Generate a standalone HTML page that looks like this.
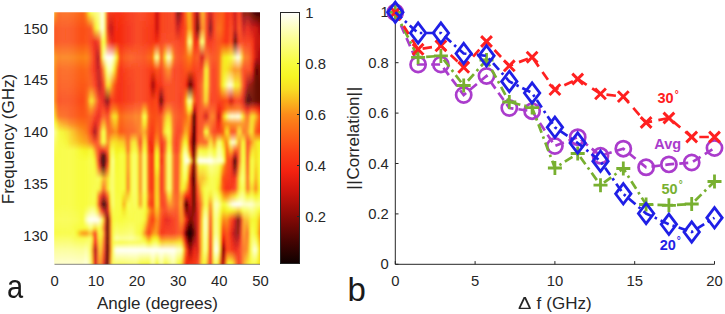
<!DOCTYPE html>
<html><head><meta charset="utf-8"><style>
html,body{margin:0;padding:0;background:#fff}
#w{position:relative;width:725px;height:314px;overflow:hidden;background:#fff;font-family:"Liberation Sans",sans-serif;color:#262626}
.t{position:absolute;font-size:14.8px;line-height:17px;white-space:nowrap}
.r{text-align:right}.c{text-align:center}
.l{position:absolute;font-size:17px;line-height:20px;white-space:nowrap;text-align:center}
.b{position:absolute;font-size:14.5px;line-height:17px;font-weight:bold;white-space:nowrap}
.b sup{font-size:10px;font-weight:bold;position:relative;top:-0.5px;left:1px;vertical-align:top;line-height:10px}
.p{position:absolute;font-size:33px;line-height:36px;color:#1a1a1a}
</style></head><body><div id="w">
<svg style="position:absolute;left:0;top:0" width="725" height="314" viewBox="0 0 725 314">
<defs><linearGradient id="g0" x1="0" y1="0" x2="0" y2="1"><stop offset="0.0249" stop-color="#fab21e"/><stop offset="0.0837" stop-color="#fb5015"/><stop offset="0.1347" stop-color="#fb5015"/><stop offset="0.1935" stop-color="#fba21c"/><stop offset="0.2405" stop-color="#fc961b"/><stop offset="0.2993" stop-color="#fb991b"/><stop offset="0.3581" stop-color="#fb9c1c"/><stop offset="0.3895" stop-color="#f9c921"/><stop offset="0.4170" stop-color="#f7e824"/><stop offset="0.4444" stop-color="#f8fc46"/><stop offset="0.4758" stop-color="#fcfea5"/><stop offset="0.5150" stop-color="#fafd70"/><stop offset="0.5463" stop-color="#f9fc51"/><stop offset="0.5659" stop-color="#f8fc46"/><stop offset="0.5855" stop-color="#f8fc3c"/><stop offset="0.6051" stop-color="#f8fc3c"/><stop offset="0.6522" stop-color="#f8fc3c"/><stop offset="0.6914" stop-color="#f8fc3c"/><stop offset="0.7188" stop-color="#f8fc3c"/><stop offset="0.7502" stop-color="#f8fc3c"/><stop offset="0.7737" stop-color="#f8fc43"/><stop offset="0.8090" stop-color="#f9fc4e"/><stop offset="0.8404" stop-color="#f8fc43"/><stop offset="0.8600" stop-color="#f8fc3c"/><stop offset="0.8796" stop-color="#f9fd58"/><stop offset="0.8952" stop-color="#fafd6f"/><stop offset="0.9227" stop-color="#fcfe96"/><stop offset="0.9737" stop-color="#fefec8"/></linearGradient>
<linearGradient id="g1" x1="0" y1="0" x2="0" y2="1"><stop offset="0.0249" stop-color="#fab21e"/><stop offset="0.0837" stop-color="#fb5015"/><stop offset="0.1347" stop-color="#fb5015"/><stop offset="0.1935" stop-color="#fba21c"/><stop offset="0.2405" stop-color="#fc961b"/><stop offset="0.2993" stop-color="#fb991b"/><stop offset="0.3581" stop-color="#fb9c1c"/><stop offset="0.3895" stop-color="#f9c921"/><stop offset="0.4170" stop-color="#f7e824"/><stop offset="0.4444" stop-color="#f8fc46"/><stop offset="0.4758" stop-color="#fcfea5"/><stop offset="0.5150" stop-color="#fafd70"/><stop offset="0.5463" stop-color="#f9fc51"/><stop offset="0.5659" stop-color="#f8fc46"/><stop offset="0.5855" stop-color="#f8fc3c"/><stop offset="0.6051" stop-color="#f8fc3c"/><stop offset="0.6522" stop-color="#f8fc3c"/><stop offset="0.6914" stop-color="#f8fc3c"/><stop offset="0.7188" stop-color="#f8fc3c"/><stop offset="0.7502" stop-color="#f8fc3c"/><stop offset="0.7737" stop-color="#f8fc43"/><stop offset="0.8090" stop-color="#f9fc4e"/><stop offset="0.8404" stop-color="#f8fc43"/><stop offset="0.8600" stop-color="#f8fc3c"/><stop offset="0.8796" stop-color="#f9fd58"/><stop offset="0.8952" stop-color="#fafd6f"/><stop offset="0.9227" stop-color="#fcfe96"/><stop offset="0.9737" stop-color="#fefec8"/></linearGradient>
<linearGradient id="g2" x1="0" y1="0" x2="0" y2="1"><stop offset="0.0249" stop-color="#fb971b"/><stop offset="0.0837" stop-color="#fb5015"/><stop offset="0.1347" stop-color="#fb5015"/><stop offset="0.1935" stop-color="#fb971b"/><stop offset="0.2405" stop-color="#fc8419"/><stop offset="0.2993" stop-color="#fc8219"/><stop offset="0.3581" stop-color="#fc8019"/><stop offset="0.3895" stop-color="#fba51c"/><stop offset="0.4170" stop-color="#f9cb21"/><stop offset="0.4444" stop-color="#f7f92f"/><stop offset="0.4758" stop-color="#fbfe88"/><stop offset="0.5150" stop-color="#fafd62"/><stop offset="0.5463" stop-color="#f9fc4b"/><stop offset="0.5659" stop-color="#f8fc43"/><stop offset="0.5855" stop-color="#f8fc3c"/><stop offset="0.6051" stop-color="#f8fc3c"/><stop offset="0.6522" stop-color="#f8fc3c"/><stop offset="0.6914" stop-color="#f8fc3c"/><stop offset="0.7188" stop-color="#f8fc3c"/><stop offset="0.7502" stop-color="#f8fc3c"/><stop offset="0.7737" stop-color="#f8fc43"/><stop offset="0.8090" stop-color="#f9fc4e"/><stop offset="0.8404" stop-color="#f8fc43"/><stop offset="0.8600" stop-color="#f8fc3c"/><stop offset="0.8796" stop-color="#f9fd58"/><stop offset="0.8952" stop-color="#fafd6f"/><stop offset="0.9227" stop-color="#fcfe96"/><stop offset="0.9737" stop-color="#fefec8"/></linearGradient>
<linearGradient id="g3" x1="0" y1="0" x2="0" y2="1"><stop offset="0.0249" stop-color="#fc7018"/><stop offset="0.0837" stop-color="#fb5015"/><stop offset="0.1347" stop-color="#fb5015"/><stop offset="0.1935" stop-color="#fc8519"/><stop offset="0.2405" stop-color="#fc6917"/><stop offset="0.2993" stop-color="#fc6117"/><stop offset="0.3581" stop-color="#fc5616"/><stop offset="0.3895" stop-color="#fc6e17"/><stop offset="0.4170" stop-color="#fc8519"/><stop offset="0.4444" stop-color="#f8dc24"/><stop offset="0.4758" stop-color="#f9fc51"/><stop offset="0.5150" stop-color="#f8fc46"/><stop offset="0.5463" stop-color="#f8fc3f"/><stop offset="0.5659" stop-color="#f8fc3e"/><stop offset="0.5855" stop-color="#f8fc3c"/><stop offset="0.6051" stop-color="#f8fc3c"/><stop offset="0.6522" stop-color="#f8fc3c"/><stop offset="0.6914" stop-color="#f8fc3c"/><stop offset="0.7188" stop-color="#f8fc3c"/><stop offset="0.7502" stop-color="#f8fc3c"/><stop offset="0.7737" stop-color="#f8fc43"/><stop offset="0.8090" stop-color="#f9fc4e"/><stop offset="0.8404" stop-color="#f8fc43"/><stop offset="0.8600" stop-color="#f8fc3c"/><stop offset="0.8796" stop-color="#f9fd58"/><stop offset="0.8952" stop-color="#fafd6f"/><stop offset="0.9227" stop-color="#fcfe96"/><stop offset="0.9737" stop-color="#fefec8"/></linearGradient>
<linearGradient id="g4" x1="0" y1="0" x2="0" y2="1"><stop offset="0.0249" stop-color="#fc6217"/><stop offset="0.0837" stop-color="#fb5015"/><stop offset="0.1347" stop-color="#fb5015"/><stop offset="0.1935" stop-color="#fc7f19"/><stop offset="0.2405" stop-color="#fc5e16"/><stop offset="0.2993" stop-color="#fc5416"/><stop offset="0.3581" stop-color="#fb4615"/><stop offset="0.3895" stop-color="#fc5916"/><stop offset="0.4170" stop-color="#fc6c17"/><stop offset="0.4444" stop-color="#fab81e"/><stop offset="0.4758" stop-color="#f7fa33"/><stop offset="0.5150" stop-color="#f8fb38"/><stop offset="0.5463" stop-color="#f8fc3b"/><stop offset="0.5659" stop-color="#f8fc3b"/><stop offset="0.5855" stop-color="#f8fc3c"/><stop offset="0.6051" stop-color="#f8fc3c"/><stop offset="0.6522" stop-color="#f8fc3c"/><stop offset="0.6914" stop-color="#f8fc3c"/><stop offset="0.7188" stop-color="#f8fc3c"/><stop offset="0.7502" stop-color="#f8fc3c"/><stop offset="0.7737" stop-color="#f8fc43"/><stop offset="0.8090" stop-color="#f9fc4e"/><stop offset="0.8404" stop-color="#f8fc43"/><stop offset="0.8600" stop-color="#f8fc3c"/><stop offset="0.8796" stop-color="#f9fd58"/><stop offset="0.8952" stop-color="#fafd6f"/><stop offset="0.9227" stop-color="#fcfe96"/><stop offset="0.9737" stop-color="#fefec8"/></linearGradient>
<linearGradient id="g5" x1="0" y1="0" x2="0" y2="1"><stop offset="0.0249" stop-color="#fc6617"/><stop offset="0.0837" stop-color="#fb5015"/><stop offset="0.1347" stop-color="#fb5015"/><stop offset="0.1935" stop-color="#fc8019"/><stop offset="0.2405" stop-color="#fc6117"/><stop offset="0.2993" stop-color="#fc5816"/><stop offset="0.3581" stop-color="#fb4a15"/><stop offset="0.3895" stop-color="#fc5916"/><stop offset="0.4170" stop-color="#fc6817"/><stop offset="0.4444" stop-color="#fbab1d"/><stop offset="0.4758" stop-color="#f6f728"/><stop offset="0.5150" stop-color="#f7fa35"/><stop offset="0.5463" stop-color="#f8fc3c"/><stop offset="0.5659" stop-color="#f8fc3c"/><stop offset="0.5855" stop-color="#f8fc3c"/><stop offset="0.6051" stop-color="#f8fc3c"/><stop offset="0.6522" stop-color="#f8fc3c"/><stop offset="0.6914" stop-color="#f8fc3c"/><stop offset="0.7188" stop-color="#f8fc3c"/><stop offset="0.7502" stop-color="#f8fc3c"/><stop offset="0.7737" stop-color="#f8fc43"/><stop offset="0.8090" stop-color="#f9fc4e"/><stop offset="0.8404" stop-color="#f8fc43"/><stop offset="0.8600" stop-color="#f8fc3c"/><stop offset="0.8796" stop-color="#f9fd58"/><stop offset="0.8952" stop-color="#fafd6f"/><stop offset="0.9227" stop-color="#fcfe96"/><stop offset="0.9737" stop-color="#fefec8"/></linearGradient>
<linearGradient id="g6" x1="0" y1="0" x2="0" y2="1"><stop offset="0.0249" stop-color="#fc6717"/><stop offset="0.0837" stop-color="#fb5015"/><stop offset="0.1347" stop-color="#fb5015"/><stop offset="0.1935" stop-color="#fc8119"/><stop offset="0.2405" stop-color="#fc6317"/><stop offset="0.2993" stop-color="#fc5916"/><stop offset="0.3581" stop-color="#fb4c15"/><stop offset="0.3895" stop-color="#fc5916"/><stop offset="0.4170" stop-color="#fc6517"/><stop offset="0.4444" stop-color="#fba21c"/><stop offset="0.4758" stop-color="#f6f224"/><stop offset="0.5150" stop-color="#f7f930"/><stop offset="0.5463" stop-color="#f8fc3c"/><stop offset="0.5659" stop-color="#f8fc3c"/><stop offset="0.5855" stop-color="#f8fc3c"/><stop offset="0.6051" stop-color="#f8fc3c"/><stop offset="0.6522" stop-color="#f8fc3c"/><stop offset="0.6914" stop-color="#f8fc3c"/><stop offset="0.7188" stop-color="#f8fc3c"/><stop offset="0.7502" stop-color="#f8fc3c"/><stop offset="0.7737" stop-color="#f8fc43"/><stop offset="0.8090" stop-color="#f9fc4e"/><stop offset="0.8404" stop-color="#f8fc43"/><stop offset="0.8600" stop-color="#f8fc3c"/><stop offset="0.8796" stop-color="#f9fd58"/><stop offset="0.8952" stop-color="#fafd6f"/><stop offset="0.9227" stop-color="#fcfe96"/><stop offset="0.9737" stop-color="#fefec8"/></linearGradient>
<linearGradient id="g7" x1="0" y1="0" x2="0" y2="1"><stop offset="0.0249" stop-color="#fc6717"/><stop offset="0.0837" stop-color="#fb5015"/><stop offset="0.1347" stop-color="#fb5015"/><stop offset="0.1935" stop-color="#fc8119"/><stop offset="0.2405" stop-color="#fc6317"/><stop offset="0.2993" stop-color="#fc5916"/><stop offset="0.3581" stop-color="#fb4c15"/><stop offset="0.3895" stop-color="#fc5816"/><stop offset="0.4170" stop-color="#fc6417"/><stop offset="0.4444" stop-color="#fb9c1b"/><stop offset="0.4758" stop-color="#f7eb24"/><stop offset="0.5150" stop-color="#f6f729"/><stop offset="0.5463" stop-color="#f8fc3c"/><stop offset="0.5659" stop-color="#f8fc3c"/><stop offset="0.5855" stop-color="#f8fc3c"/><stop offset="0.6051" stop-color="#f8fc3c"/><stop offset="0.6522" stop-color="#f8fc3c"/><stop offset="0.6914" stop-color="#f8fc3c"/><stop offset="0.7188" stop-color="#f8fc3c"/><stop offset="0.7502" stop-color="#f8fc3c"/><stop offset="0.7737" stop-color="#f8fc43"/><stop offset="0.8090" stop-color="#f9fc4e"/><stop offset="0.8404" stop-color="#f8fc43"/><stop offset="0.8600" stop-color="#f8fc3c"/><stop offset="0.8796" stop-color="#f9fd58"/><stop offset="0.8952" stop-color="#fafd6f"/><stop offset="0.9227" stop-color="#fcfe96"/><stop offset="0.9737" stop-color="#fefec8"/></linearGradient>
<linearGradient id="g8" x1="0" y1="0" x2="0" y2="1"><stop offset="0.0249" stop-color="#fc6717"/><stop offset="0.0837" stop-color="#fb5015"/><stop offset="0.1347" stop-color="#fb5015"/><stop offset="0.1935" stop-color="#fc8119"/><stop offset="0.2405" stop-color="#fc6317"/><stop offset="0.2993" stop-color="#fc5916"/><stop offset="0.3581" stop-color="#fb4c15"/><stop offset="0.3895" stop-color="#fc5716"/><stop offset="0.4170" stop-color="#fc6017"/><stop offset="0.4444" stop-color="#fc921b"/><stop offset="0.4758" stop-color="#f8e324"/><stop offset="0.5150" stop-color="#f6f124"/><stop offset="0.5463" stop-color="#f8fc3c"/><stop offset="0.5659" stop-color="#f8fc3c"/><stop offset="0.5855" stop-color="#f8fc3c"/><stop offset="0.6051" stop-color="#f8fc3c"/><stop offset="0.6522" stop-color="#f8fc3c"/><stop offset="0.6914" stop-color="#f8fc3c"/><stop offset="0.7188" stop-color="#f8fc3c"/><stop offset="0.7502" stop-color="#f8fc3c"/><stop offset="0.7737" stop-color="#f8fc43"/><stop offset="0.8090" stop-color="#f9fc4e"/><stop offset="0.8404" stop-color="#f8fc43"/><stop offset="0.8600" stop-color="#f8fc3c"/><stop offset="0.8796" stop-color="#f9fd59"/><stop offset="0.8952" stop-color="#fafd6f"/><stop offset="0.9227" stop-color="#fcfe96"/><stop offset="0.9737" stop-color="#fefec8"/></linearGradient>
<linearGradient id="g9" x1="0" y1="0" x2="0" y2="1"><stop offset="0.0249" stop-color="#fc6717"/><stop offset="0.0837" stop-color="#fb5015"/><stop offset="0.1347" stop-color="#fb5015"/><stop offset="0.1935" stop-color="#fc8119"/><stop offset="0.2405" stop-color="#fc6317"/><stop offset="0.2993" stop-color="#fc5916"/><stop offset="0.3581" stop-color="#fb4c15"/><stop offset="0.3895" stop-color="#fc5416"/><stop offset="0.4170" stop-color="#fc5b16"/><stop offset="0.4444" stop-color="#fc8619"/><stop offset="0.4758" stop-color="#f8d523"/><stop offset="0.5150" stop-color="#f8e324"/><stop offset="0.5463" stop-color="#f8fc3c"/><stop offset="0.5659" stop-color="#f8fc3c"/><stop offset="0.5855" stop-color="#f8fc3c"/><stop offset="0.6051" stop-color="#f8fc3c"/><stop offset="0.6522" stop-color="#f8fc3c"/><stop offset="0.6914" stop-color="#f8fc3c"/><stop offset="0.7188" stop-color="#f8fc3c"/><stop offset="0.7502" stop-color="#f8fc3c"/><stop offset="0.7737" stop-color="#f8fc43"/><stop offset="0.8090" stop-color="#f9fc4e"/><stop offset="0.8404" stop-color="#f8fc44"/><stop offset="0.8600" stop-color="#f8fc3c"/><stop offset="0.8796" stop-color="#f9fd59"/><stop offset="0.8952" stop-color="#fafd6f"/><stop offset="0.9227" stop-color="#fcfe96"/><stop offset="0.9737" stop-color="#fefec8"/></linearGradient>
<linearGradient id="g10" x1="0" y1="0" x2="0" y2="1"><stop offset="0.0249" stop-color="#fc6717"/><stop offset="0.0837" stop-color="#fb5015"/><stop offset="0.1347" stop-color="#fb5015"/><stop offset="0.1935" stop-color="#fc8119"/><stop offset="0.2405" stop-color="#fc6317"/><stop offset="0.2993" stop-color="#fc5916"/><stop offset="0.3581" stop-color="#fb4c15"/><stop offset="0.3895" stop-color="#fc5216"/><stop offset="0.4170" stop-color="#fc5816"/><stop offset="0.4444" stop-color="#fc8019"/><stop offset="0.4758" stop-color="#f9c721"/><stop offset="0.5150" stop-color="#f8d723"/><stop offset="0.5463" stop-color="#f8fc3d"/><stop offset="0.5659" stop-color="#f8fc3c"/><stop offset="0.5855" stop-color="#f8fc3c"/><stop offset="0.6051" stop-color="#f8fc3c"/><stop offset="0.6522" stop-color="#f8fc3c"/><stop offset="0.6914" stop-color="#f8fc3c"/><stop offset="0.7188" stop-color="#f8fc3c"/><stop offset="0.7502" stop-color="#f8fc3c"/><stop offset="0.7737" stop-color="#f8fc43"/><stop offset="0.8090" stop-color="#f9fc4e"/><stop offset="0.8404" stop-color="#f8fc42"/><stop offset="0.8600" stop-color="#f8fc40"/><stop offset="0.8796" stop-color="#f9fd56"/><stop offset="0.8952" stop-color="#fafd6d"/><stop offset="0.9227" stop-color="#fcfe96"/><stop offset="0.9737" stop-color="#fefec8"/></linearGradient>
<linearGradient id="g11" x1="0" y1="0" x2="0" y2="1"><stop offset="0.0249" stop-color="#fc6717"/><stop offset="0.0837" stop-color="#fb5015"/><stop offset="0.1347" stop-color="#fb5015"/><stop offset="0.1935" stop-color="#fc8119"/><stop offset="0.2405" stop-color="#fc6317"/><stop offset="0.2993" stop-color="#fc5916"/><stop offset="0.3581" stop-color="#fb4c15"/><stop offset="0.3895" stop-color="#fc5316"/><stop offset="0.4170" stop-color="#fc5916"/><stop offset="0.4444" stop-color="#fc7d19"/><stop offset="0.4758" stop-color="#fabc1f"/><stop offset="0.5150" stop-color="#f9d122"/><stop offset="0.5463" stop-color="#f8fc3e"/><stop offset="0.5659" stop-color="#f8fc3d"/><stop offset="0.5855" stop-color="#f8fc3c"/><stop offset="0.6051" stop-color="#f8fc3c"/><stop offset="0.6522" stop-color="#f8fc3c"/><stop offset="0.6914" stop-color="#f8fc3c"/><stop offset="0.7188" stop-color="#f8fc3c"/><stop offset="0.7502" stop-color="#f8fc3c"/><stop offset="0.7737" stop-color="#f8fc43"/><stop offset="0.8090" stop-color="#f9fc4e"/><stop offset="0.8404" stop-color="#f8fc3d"/><stop offset="0.8600" stop-color="#f9fc48"/><stop offset="0.8796" stop-color="#f9fc50"/><stop offset="0.8952" stop-color="#fafd69"/><stop offset="0.9227" stop-color="#fcfe96"/><stop offset="0.9737" stop-color="#fefec8"/></linearGradient>
<linearGradient id="g12" x1="0" y1="0" x2="0" y2="1"><stop offset="0.0249" stop-color="#fc6717"/><stop offset="0.0837" stop-color="#fb5015"/><stop offset="0.1347" stop-color="#fb5015"/><stop offset="0.1935" stop-color="#fc8119"/><stop offset="0.2405" stop-color="#fc6317"/><stop offset="0.2993" stop-color="#fc5916"/><stop offset="0.3581" stop-color="#fb4c15"/><stop offset="0.3895" stop-color="#fc5316"/><stop offset="0.4170" stop-color="#fc5916"/><stop offset="0.4444" stop-color="#fc7a18"/><stop offset="0.4758" stop-color="#faaf1d"/><stop offset="0.5150" stop-color="#f9ca21"/><stop offset="0.5463" stop-color="#f8fc3b"/><stop offset="0.5659" stop-color="#f8fc3b"/><stop offset="0.5855" stop-color="#f8fc3c"/><stop offset="0.6051" stop-color="#f8fc3c"/><stop offset="0.6522" stop-color="#f8fc3c"/><stop offset="0.6914" stop-color="#f8fc3c"/><stop offset="0.7188" stop-color="#f8fc3c"/><stop offset="0.7502" stop-color="#f8fc3c"/><stop offset="0.7737" stop-color="#f8fc43"/><stop offset="0.8090" stop-color="#f9fc4e"/><stop offset="0.8404" stop-color="#f8fc3c"/><stop offset="0.8600" stop-color="#f7fa33"/><stop offset="0.8796" stop-color="#f9fc4d"/><stop offset="0.8952" stop-color="#fafd67"/><stop offset="0.9227" stop-color="#fcfe96"/><stop offset="0.9737" stop-color="#fefec8"/></linearGradient>
<linearGradient id="g13" x1="0" y1="0" x2="0" y2="1"><stop offset="0.0249" stop-color="#fc6717"/><stop offset="0.0837" stop-color="#fb5015"/><stop offset="0.1347" stop-color="#fb5015"/><stop offset="0.1935" stop-color="#fc8119"/><stop offset="0.2405" stop-color="#fc6317"/><stop offset="0.2993" stop-color="#fc5916"/><stop offset="0.3581" stop-color="#fb4c15"/><stop offset="0.3895" stop-color="#fc5316"/><stop offset="0.4170" stop-color="#fc5916"/><stop offset="0.4444" stop-color="#fc7618"/><stop offset="0.4758" stop-color="#fba21c"/><stop offset="0.5150" stop-color="#f9c220"/><stop offset="0.5463" stop-color="#f7fa35"/><stop offset="0.5659" stop-color="#f8fb39"/><stop offset="0.5855" stop-color="#f8fc3c"/><stop offset="0.6051" stop-color="#f8fc3c"/><stop offset="0.6522" stop-color="#f8fc3c"/><stop offset="0.6914" stop-color="#f8fc3c"/><stop offset="0.7188" stop-color="#f8fc3c"/><stop offset="0.7502" stop-color="#f8fc3c"/><stop offset="0.7737" stop-color="#f8fc43"/><stop offset="0.8090" stop-color="#f9fc4e"/><stop offset="0.8404" stop-color="#f8fc3c"/><stop offset="0.8600" stop-color="#f8e224"/><stop offset="0.8796" stop-color="#f9fc4e"/><stop offset="0.8952" stop-color="#fafd68"/><stop offset="0.9227" stop-color="#fcfe96"/><stop offset="0.9737" stop-color="#fefec8"/></linearGradient>
<linearGradient id="g14" x1="0" y1="0" x2="0" y2="1"><stop offset="0.0249" stop-color="#fc6617"/><stop offset="0.0837" stop-color="#fb5015"/><stop offset="0.1347" stop-color="#fb5015"/><stop offset="0.1935" stop-color="#fc8119"/><stop offset="0.2405" stop-color="#fc6317"/><stop offset="0.2993" stop-color="#fc5916"/><stop offset="0.3581" stop-color="#fb4b15"/><stop offset="0.3895" stop-color="#fc5216"/><stop offset="0.4170" stop-color="#fc5916"/><stop offset="0.4444" stop-color="#fc7318"/><stop offset="0.4758" stop-color="#fb991b"/><stop offset="0.5150" stop-color="#faba1f"/><stop offset="0.5463" stop-color="#f7f930"/><stop offset="0.5659" stop-color="#f8fb36"/><stop offset="0.5855" stop-color="#f8fc3c"/><stop offset="0.6051" stop-color="#f8fc3c"/><stop offset="0.6522" stop-color="#f8fc3c"/><stop offset="0.6914" stop-color="#f8fc3c"/><stop offset="0.7188" stop-color="#f8fc3c"/><stop offset="0.7502" stop-color="#f8fc3c"/><stop offset="0.7737" stop-color="#f8fc42"/><stop offset="0.8090" stop-color="#f9fc4a"/><stop offset="0.8404" stop-color="#f8fc3c"/><stop offset="0.8600" stop-color="#fabb1f"/><stop offset="0.8796" stop-color="#f9fc4e"/><stop offset="0.8952" stop-color="#fafd68"/><stop offset="0.9227" stop-color="#fcfe96"/><stop offset="0.9737" stop-color="#fefec8"/></linearGradient>
<linearGradient id="g15" x1="0" y1="0" x2="0" y2="1"><stop offset="0.0249" stop-color="#fc6217"/><stop offset="0.0837" stop-color="#fb5015"/><stop offset="0.1347" stop-color="#fb5015"/><stop offset="0.1935" stop-color="#fc8119"/><stop offset="0.2405" stop-color="#fc6317"/><stop offset="0.2993" stop-color="#fc5916"/><stop offset="0.3581" stop-color="#fb4915"/><stop offset="0.3895" stop-color="#fb5115"/><stop offset="0.4170" stop-color="#fc5916"/><stop offset="0.4444" stop-color="#fc7118"/><stop offset="0.4758" stop-color="#fc931b"/><stop offset="0.5150" stop-color="#fab21e"/><stop offset="0.5463" stop-color="#f7f82b"/><stop offset="0.5659" stop-color="#f7fa34"/><stop offset="0.5855" stop-color="#f8fc3c"/><stop offset="0.6051" stop-color="#f8fc3c"/><stop offset="0.6522" stop-color="#f8fc3c"/><stop offset="0.6914" stop-color="#f8fc3c"/><stop offset="0.7188" stop-color="#f8fc3c"/><stop offset="0.7502" stop-color="#f8fc3c"/><stop offset="0.7737" stop-color="#f8fc40"/><stop offset="0.8090" stop-color="#f8fc41"/><stop offset="0.8404" stop-color="#f8fc3c"/><stop offset="0.8600" stop-color="#fba21c"/><stop offset="0.8796" stop-color="#f9fc4e"/><stop offset="0.8952" stop-color="#fafd68"/><stop offset="0.9227" stop-color="#fcfe96"/><stop offset="0.9737" stop-color="#fefec8"/></linearGradient>
<linearGradient id="g16" x1="0" y1="0" x2="0" y2="1"><stop offset="0.0249" stop-color="#fc6d17"/><stop offset="0.0837" stop-color="#fb5015"/><stop offset="0.1347" stop-color="#fb5115"/><stop offset="0.1935" stop-color="#fc8319"/><stop offset="0.2405" stop-color="#fc6417"/><stop offset="0.2993" stop-color="#fc5916"/><stop offset="0.3581" stop-color="#fb5015"/><stop offset="0.3895" stop-color="#fc5516"/><stop offset="0.4170" stop-color="#fc5916"/><stop offset="0.4444" stop-color="#fc6e17"/><stop offset="0.4758" stop-color="#fc891a"/><stop offset="0.5150" stop-color="#fbab1d"/><stop offset="0.5463" stop-color="#f6f626"/><stop offset="0.5659" stop-color="#f7f931"/><stop offset="0.5855" stop-color="#f8fc3c"/><stop offset="0.6051" stop-color="#f8fc3c"/><stop offset="0.6522" stop-color="#f8fc3c"/><stop offset="0.6914" stop-color="#f8fc3c"/><stop offset="0.7188" stop-color="#f8fc3c"/><stop offset="0.7502" stop-color="#f8fc3c"/><stop offset="0.7737" stop-color="#f8fc47"/><stop offset="0.8090" stop-color="#fafd61"/><stop offset="0.8404" stop-color="#f8fc3b"/><stop offset="0.8600" stop-color="#fc961b"/><stop offset="0.8796" stop-color="#f9fc4f"/><stop offset="0.8952" stop-color="#fafd6a"/><stop offset="0.9227" stop-color="#fcfe9c"/><stop offset="0.9737" stop-color="#feffce"/></linearGradient>
<linearGradient id="g17" x1="0" y1="0" x2="0" y2="1"><stop offset="0.0249" stop-color="#fc881a"/><stop offset="0.0837" stop-color="#fb4f15"/><stop offset="0.1347" stop-color="#fc5316"/><stop offset="0.1935" stop-color="#fc8619"/><stop offset="0.2405" stop-color="#fc6617"/><stop offset="0.2993" stop-color="#fc5916"/><stop offset="0.3581" stop-color="#fc6217"/><stop offset="0.3895" stop-color="#fc5d16"/><stop offset="0.4170" stop-color="#fc5916"/><stop offset="0.4444" stop-color="#fc6a17"/><stop offset="0.4758" stop-color="#fc7e19"/><stop offset="0.5150" stop-color="#fba61c"/><stop offset="0.5463" stop-color="#f6f224"/><stop offset="0.5659" stop-color="#f7f82e"/><stop offset="0.5855" stop-color="#f8fc3c"/><stop offset="0.6051" stop-color="#f8fc3c"/><stop offset="0.6522" stop-color="#f8fc3c"/><stop offset="0.6914" stop-color="#f8fc3c"/><stop offset="0.7188" stop-color="#f8fc3c"/><stop offset="0.7502" stop-color="#f8fc3c"/><stop offset="0.7737" stop-color="#f9fd57"/><stop offset="0.8090" stop-color="#fdfeac"/><stop offset="0.8404" stop-color="#f8fb39"/><stop offset="0.8600" stop-color="#fb971b"/><stop offset="0.8796" stop-color="#f9fc50"/><stop offset="0.8952" stop-color="#fafd6f"/><stop offset="0.9227" stop-color="#fdfea7"/><stop offset="0.9737" stop-color="#feffd9"/></linearGradient>
<linearGradient id="g18" x1="0" y1="0" x2="0" y2="1"><stop offset="0.0249" stop-color="#f9c520"/><stop offset="0.0837" stop-color="#fb4f15"/><stop offset="0.1347" stop-color="#fb4d15"/><stop offset="0.1935" stop-color="#fc7c19"/><stop offset="0.2405" stop-color="#fc5f16"/><stop offset="0.2993" stop-color="#fc5b16"/><stop offset="0.3581" stop-color="#fc8619"/><stop offset="0.3895" stop-color="#fc6e17"/><stop offset="0.4170" stop-color="#fc5b16"/><stop offset="0.4444" stop-color="#fc5f16"/><stop offset="0.4758" stop-color="#fc6417"/><stop offset="0.5150" stop-color="#fc941b"/><stop offset="0.5463" stop-color="#f6f424"/><stop offset="0.5659" stop-color="#f7f930"/><stop offset="0.5855" stop-color="#f8fc3f"/><stop offset="0.6051" stop-color="#f8fc3e"/><stop offset="0.6522" stop-color="#f8fc3c"/><stop offset="0.6914" stop-color="#f8fc3c"/><stop offset="0.7188" stop-color="#f8fc3d"/><stop offset="0.7502" stop-color="#f8fc3e"/><stop offset="0.7737" stop-color="#fafd6b"/><stop offset="0.8090" stop-color="#feffdf"/><stop offset="0.8404" stop-color="#f9fc49"/><stop offset="0.8600" stop-color="#fba91d"/><stop offset="0.8796" stop-color="#f9fd57"/><stop offset="0.8952" stop-color="#fafd6c"/><stop offset="0.9227" stop-color="#fcfe8f"/><stop offset="0.9737" stop-color="#fdfec1"/></linearGradient>
<linearGradient id="g19" x1="0" y1="0" x2="0" y2="1"><stop offset="0.0249" stop-color="#f7f82d"/><stop offset="0.0837" stop-color="#fb4e15"/><stop offset="0.1347" stop-color="#fa4014"/><stop offset="0.1935" stop-color="#fc6817"/><stop offset="0.2405" stop-color="#fb4e15"/><stop offset="0.2993" stop-color="#fc5e16"/><stop offset="0.3581" stop-color="#f8d423"/><stop offset="0.3895" stop-color="#fc891a"/><stop offset="0.4170" stop-color="#fc5e16"/><stop offset="0.4444" stop-color="#fb5015"/><stop offset="0.4758" stop-color="#fa4114"/><stop offset="0.5150" stop-color="#fc7d19"/><stop offset="0.5463" stop-color="#f7f82b"/><stop offset="0.5659" stop-color="#f8fb36"/><stop offset="0.5855" stop-color="#f8fc46"/><stop offset="0.6051" stop-color="#f8fc43"/><stop offset="0.6522" stop-color="#f8fc3c"/><stop offset="0.6914" stop-color="#f8fc3c"/><stop offset="0.7188" stop-color="#f8fc3e"/><stop offset="0.7502" stop-color="#f8fc41"/><stop offset="0.7737" stop-color="#fbfe82"/><stop offset="0.8090" stop-color="#fffff6"/><stop offset="0.8404" stop-color="#fafd71"/><stop offset="0.8600" stop-color="#f9cb21"/><stop offset="0.8796" stop-color="#fafd64"/><stop offset="0.8952" stop-color="#fafd60"/><stop offset="0.9227" stop-color="#f9fd59"/><stop offset="0.9737" stop-color="#fbfe86"/></linearGradient>
<linearGradient id="g20" x1="0" y1="0" x2="0" y2="1"><stop offset="0.0249" stop-color="#f9fd53"/><stop offset="0.0837" stop-color="#fc6817"/><stop offset="0.1347" stop-color="#f73212"/><stop offset="0.1935" stop-color="#fb4b15"/><stop offset="0.2405" stop-color="#fa3c14"/><stop offset="0.2993" stop-color="#fc5316"/><stop offset="0.3581" stop-color="#f8e124"/><stop offset="0.3895" stop-color="#fc8619"/><stop offset="0.4170" stop-color="#fc5216"/><stop offset="0.4444" stop-color="#f93a13"/><stop offset="0.4758" stop-color="#ec1f0f"/><stop offset="0.5150" stop-color="#fc6317"/><stop offset="0.5463" stop-color="#f7ee24"/><stop offset="0.5659" stop-color="#f7f82b"/><stop offset="0.5855" stop-color="#f8fc3b"/><stop offset="0.6051" stop-color="#f8fc3c"/><stop offset="0.6522" stop-color="#f8fc3c"/><stop offset="0.6914" stop-color="#f8fc3e"/><stop offset="0.7188" stop-color="#f8fc42"/><stop offset="0.7502" stop-color="#f8fc40"/><stop offset="0.7737" stop-color="#fcfe8c"/><stop offset="0.8090" stop-color="#fffffa"/><stop offset="0.8404" stop-color="#f9fc52"/><stop offset="0.8600" stop-color="#fb9a1b"/><stop offset="0.8796" stop-color="#f7e924"/><stop offset="0.8952" stop-color="#f8d623"/><stop offset="0.9227" stop-color="#fba61c"/><stop offset="0.9737" stop-color="#f9d222"/></linearGradient>
<linearGradient id="g21" x1="0" y1="0" x2="0" y2="1"><stop offset="0.0249" stop-color="#fafd62"/><stop offset="0.0837" stop-color="#fab51e"/><stop offset="0.1347" stop-color="#ec1f0f"/><stop offset="0.1935" stop-color="#f62a11"/><stop offset="0.2405" stop-color="#f52711"/><stop offset="0.2993" stop-color="#fa3d14"/><stop offset="0.3581" stop-color="#fab21e"/><stop offset="0.3895" stop-color="#fc6617"/><stop offset="0.4170" stop-color="#f93b14"/><stop offset="0.4444" stop-color="#e61d0f"/><stop offset="0.4758" stop-color="#a70e09"/><stop offset="0.5150" stop-color="#fb4615"/><stop offset="0.5463" stop-color="#fab51e"/><stop offset="0.5659" stop-color="#f8e124"/><stop offset="0.5855" stop-color="#f7f82a"/><stop offset="0.6051" stop-color="#f7f932"/><stop offset="0.6522" stop-color="#f8fc3c"/><stop offset="0.6914" stop-color="#f8fc41"/><stop offset="0.7188" stop-color="#f8fc47"/><stop offset="0.7502" stop-color="#f8fc3b"/><stop offset="0.7737" stop-color="#fbfe88"/><stop offset="0.8090" stop-color="#fffffa"/><stop offset="0.8404" stop-color="#f8e324"/><stop offset="0.8600" stop-color="#fb4615"/><stop offset="0.8796" stop-color="#fb4c15"/><stop offset="0.8952" stop-color="#f83413"/><stop offset="0.9227" stop-color="#c5130b"/><stop offset="0.9737" stop-color="#ec1f0f"/></linearGradient>
<linearGradient id="g22" x1="0" y1="0" x2="0" y2="1"><stop offset="0.0249" stop-color="#fafd73"/><stop offset="0.0837" stop-color="#f6f424"/><stop offset="0.1347" stop-color="#eb1f0f"/><stop offset="0.1935" stop-color="#d1150c"/><stop offset="0.2405" stop-color="#db190d"/><stop offset="0.2993" stop-color="#f42310"/><stop offset="0.3581" stop-color="#fc7418"/><stop offset="0.3895" stop-color="#fb4815"/><stop offset="0.4170" stop-color="#f52811"/><stop offset="0.4444" stop-color="#dc1a0e"/><stop offset="0.4758" stop-color="#b6110a"/><stop offset="0.5150" stop-color="#fa4314"/><stop offset="0.5463" stop-color="#fc7118"/><stop offset="0.5659" stop-color="#fc881a"/><stop offset="0.5855" stop-color="#fba51c"/><stop offset="0.6051" stop-color="#f9ca21"/><stop offset="0.6522" stop-color="#f8fc41"/><stop offset="0.6914" stop-color="#f8fc3b"/><stop offset="0.7188" stop-color="#f7ee24"/><stop offset="0.7502" stop-color="#f8dc24"/><stop offset="0.7737" stop-color="#f9fc49"/><stop offset="0.8090" stop-color="#fffffa"/><stop offset="0.8404" stop-color="#f8de24"/><stop offset="0.8600" stop-color="#fc5216"/><stop offset="0.8796" stop-color="#fb4515"/><stop offset="0.8952" stop-color="#f62d12"/><stop offset="0.9227" stop-color="#b9110a"/><stop offset="0.9737" stop-color="#d1150c"/></linearGradient>
<linearGradient id="g23" x1="0" y1="0" x2="0" y2="1"><stop offset="0.0249" stop-color="#fbfe86"/><stop offset="0.0837" stop-color="#f9fc4e"/><stop offset="0.1347" stop-color="#f72f12"/><stop offset="0.1935" stop-color="#a60e08"/><stop offset="0.2405" stop-color="#be120b"/><stop offset="0.2993" stop-color="#c3130b"/><stop offset="0.3581" stop-color="#fa4014"/><stop offset="0.3895" stop-color="#f62d12"/><stop offset="0.4170" stop-color="#e61d0f"/><stop offset="0.4444" stop-color="#f52911"/><stop offset="0.4758" stop-color="#f93913"/><stop offset="0.5150" stop-color="#fc5a16"/><stop offset="0.5463" stop-color="#fa3e14"/><stop offset="0.5659" stop-color="#f93c14"/><stop offset="0.5855" stop-color="#f83312"/><stop offset="0.6051" stop-color="#fc5416"/><stop offset="0.6522" stop-color="#f9fc4b"/><stop offset="0.6914" stop-color="#f7fa33"/><stop offset="0.7188" stop-color="#fc7c19"/><stop offset="0.7502" stop-color="#fc5a16"/><stop offset="0.7737" stop-color="#f9cb21"/><stop offset="0.8090" stop-color="#ffffed"/><stop offset="0.8404" stop-color="#f8fb38"/><stop offset="0.8600" stop-color="#f8e124"/><stop offset="0.8796" stop-color="#f9c821"/><stop offset="0.8952" stop-color="#faac1d"/><stop offset="0.9227" stop-color="#fc8019"/><stop offset="0.9737" stop-color="#fc7218"/></linearGradient>
<linearGradient id="g24" x1="0" y1="0" x2="0" y2="1"><stop offset="0.0249" stop-color="#fdfeae"/><stop offset="0.0837" stop-color="#fcfe94"/><stop offset="0.1347" stop-color="#fc6917"/><stop offset="0.1935" stop-color="#f62d12"/><stop offset="0.2405" stop-color="#de1a0e"/><stop offset="0.2993" stop-color="#be120b"/><stop offset="0.3581" stop-color="#f52510"/><stop offset="0.3895" stop-color="#f52711"/><stop offset="0.4170" stop-color="#f52711"/><stop offset="0.4444" stop-color="#fb4e15"/><stop offset="0.4758" stop-color="#fc871a"/><stop offset="0.5150" stop-color="#fb971b"/><stop offset="0.5463" stop-color="#f42310"/><stop offset="0.5659" stop-color="#b3100a"/><stop offset="0.5855" stop-color="#930b07"/><stop offset="0.6051" stop-color="#cd140c"/><stop offset="0.6522" stop-color="#f7f92f"/><stop offset="0.6914" stop-color="#f8e024"/><stop offset="0.7188" stop-color="#f93c14"/><stop offset="0.7502" stop-color="#d0150c"/><stop offset="0.7737" stop-color="#fc6217"/><stop offset="0.8090" stop-color="#fdfeab"/><stop offset="0.8404" stop-color="#f7f931"/><stop offset="0.8600" stop-color="#f7f931"/><stop offset="0.8796" stop-color="#f6f224"/><stop offset="0.8952" stop-color="#f7e824"/><stop offset="0.9227" stop-color="#f9d222"/><stop offset="0.9737" stop-color="#fc931b"/></linearGradient>
<linearGradient id="g25" x1="0" y1="0" x2="0" y2="1"><stop offset="0.0249" stop-color="#ffffee"/><stop offset="0.0837" stop-color="#feffe5"/><stop offset="0.1347" stop-color="#f7f931"/><stop offset="0.1935" stop-color="#f7ef24"/><stop offset="0.2405" stop-color="#fb4b15"/><stop offset="0.2993" stop-color="#e71d0f"/><stop offset="0.3581" stop-color="#e71d0f"/><stop offset="0.3895" stop-color="#f93813"/><stop offset="0.4170" stop-color="#fb4f15"/><stop offset="0.4444" stop-color="#fb9e1c"/><stop offset="0.4758" stop-color="#f7fa35"/><stop offset="0.5150" stop-color="#f7fa34"/><stop offset="0.5463" stop-color="#e31c0e"/><stop offset="0.5659" stop-color="#450402"/><stop offset="0.5855" stop-color="#340301"/><stop offset="0.6051" stop-color="#470402"/><stop offset="0.6522" stop-color="#f9c720"/><stop offset="0.6914" stop-color="#fc7918"/><stop offset="0.7188" stop-color="#d0150c"/><stop offset="0.7502" stop-color="#470402"/><stop offset="0.7737" stop-color="#e91e0f"/><stop offset="0.8090" stop-color="#f8fc3f"/><stop offset="0.8404" stop-color="#fabb1f"/><stop offset="0.8600" stop-color="#f8db24"/><stop offset="0.8796" stop-color="#fabe1f"/><stop offset="0.8952" stop-color="#fba91d"/><stop offset="0.9227" stop-color="#fc8619"/><stop offset="0.9737" stop-color="#fb4e15"/></linearGradient>
<linearGradient id="g26" x1="0" y1="0" x2="0" y2="1"><stop offset="0.0249" stop-color="#fafd71"/><stop offset="0.0837" stop-color="#fafd67"/><stop offset="0.1347" stop-color="#f8fb38"/><stop offset="0.1935" stop-color="#fdfebc"/><stop offset="0.2405" stop-color="#fbaa1d"/><stop offset="0.2993" stop-color="#fb4c15"/><stop offset="0.3581" stop-color="#c2120b"/><stop offset="0.3895" stop-color="#f83212"/><stop offset="0.4170" stop-color="#fc5a16"/><stop offset="0.4444" stop-color="#fbaa1d"/><stop offset="0.4758" stop-color="#f8fb37"/><stop offset="0.5150" stop-color="#f8fb37"/><stop offset="0.5463" stop-color="#f32210"/><stop offset="0.5659" stop-color="#4c0502"/><stop offset="0.5855" stop-color="#3b0302"/><stop offset="0.6051" stop-color="#4f0503"/><stop offset="0.6522" stop-color="#fbaa1d"/><stop offset="0.6914" stop-color="#fc7018"/><stop offset="0.7188" stop-color="#ce150c"/><stop offset="0.7502" stop-color="#310301"/><stop offset="0.7737" stop-color="#ab0f09"/><stop offset="0.8090" stop-color="#fc7518"/><stop offset="0.8404" stop-color="#fa4314"/><stop offset="0.8600" stop-color="#fc5616"/><stop offset="0.8796" stop-color="#fb4a15"/><stop offset="0.8952" stop-color="#fa4214"/><stop offset="0.9227" stop-color="#f83513"/><stop offset="0.9737" stop-color="#d5170d"/></linearGradient>
<linearGradient id="g27" x1="0" y1="0" x2="0" y2="1"><stop offset="0.0249" stop-color="#fc6a17"/><stop offset="0.0837" stop-color="#fc5b16"/><stop offset="0.1347" stop-color="#fc8219"/><stop offset="0.1935" stop-color="#fffff2"/><stop offset="0.2405" stop-color="#f9fd58"/><stop offset="0.2993" stop-color="#f9c120"/><stop offset="0.3581" stop-color="#870a06"/><stop offset="0.3895" stop-color="#de1a0e"/><stop offset="0.4170" stop-color="#fa4114"/><stop offset="0.4444" stop-color="#fc6217"/><stop offset="0.4758" stop-color="#fc901a"/><stop offset="0.5150" stop-color="#fba81d"/><stop offset="0.5463" stop-color="#fa4014"/><stop offset="0.5659" stop-color="#c8130c"/><stop offset="0.5855" stop-color="#a90f09"/><stop offset="0.6051" stop-color="#e21c0e"/><stop offset="0.6522" stop-color="#f9c520"/><stop offset="0.6914" stop-color="#fab51e"/><stop offset="0.7188" stop-color="#f93a13"/><stop offset="0.7502" stop-color="#8a0a06"/><stop offset="0.7737" stop-color="#a30e08"/><stop offset="0.8090" stop-color="#810905"/><stop offset="0.8404" stop-color="#670704"/><stop offset="0.8600" stop-color="#710805"/><stop offset="0.8796" stop-color="#6b0704"/><stop offset="0.8952" stop-color="#660704"/><stop offset="0.9227" stop-color="#5e0603"/><stop offset="0.9737" stop-color="#530503"/></linearGradient>
<linearGradient id="g28" x1="0" y1="0" x2="0" y2="1"><stop offset="0.0249" stop-color="#f62a11"/><stop offset="0.0837" stop-color="#d9180d"/><stop offset="0.1347" stop-color="#fa4014"/><stop offset="0.1935" stop-color="#fffffa"/><stop offset="0.2405" stop-color="#fdfeb1"/><stop offset="0.2993" stop-color="#f7e924"/><stop offset="0.3581" stop-color="#980c07"/><stop offset="0.3895" stop-color="#f22110"/><stop offset="0.4170" stop-color="#fb4f15"/><stop offset="0.4444" stop-color="#fc5816"/><stop offset="0.4758" stop-color="#fc6317"/><stop offset="0.5150" stop-color="#fc891a"/><stop offset="0.5463" stop-color="#fc7c19"/><stop offset="0.5659" stop-color="#fc5e16"/><stop offset="0.5855" stop-color="#fb5015"/><stop offset="0.6051" stop-color="#fc7718"/><stop offset="0.6522" stop-color="#f7ee24"/><stop offset="0.6914" stop-color="#f6f424"/><stop offset="0.7188" stop-color="#fc8119"/><stop offset="0.7502" stop-color="#f93913"/><stop offset="0.7737" stop-color="#f62a11"/><stop offset="0.8090" stop-color="#840a06"/><stop offset="0.8404" stop-color="#850a06"/><stop offset="0.8600" stop-color="#850a06"/><stop offset="0.8796" stop-color="#840906"/><stop offset="0.8952" stop-color="#860a06"/><stop offset="0.9227" stop-color="#810905"/><stop offset="0.9737" stop-color="#9a0c07"/></linearGradient>
<linearGradient id="g29" x1="0" y1="0" x2="0" y2="1"><stop offset="0.0249" stop-color="#f72e12"/><stop offset="0.0837" stop-color="#c6130b"/><stop offset="0.1347" stop-color="#f42310"/><stop offset="0.1935" stop-color="#fffffa"/><stop offset="0.2405" stop-color="#fdfeac"/><stop offset="0.2993" stop-color="#fab21e"/><stop offset="0.3581" stop-color="#f42210"/><stop offset="0.3895" stop-color="#fc5616"/><stop offset="0.4170" stop-color="#fc921b"/><stop offset="0.4444" stop-color="#fc7e19"/><stop offset="0.4758" stop-color="#fc6a17"/><stop offset="0.5150" stop-color="#f9ca21"/><stop offset="0.5463" stop-color="#f6f729"/><stop offset="0.5659" stop-color="#f7f82d"/><stop offset="0.5855" stop-color="#f7fa34"/><stop offset="0.6051" stop-color="#f8fc3c"/><stop offset="0.6522" stop-color="#f9fd58"/><stop offset="0.6914" stop-color="#f9fd5b"/><stop offset="0.7188" stop-color="#f7fa32"/><stop offset="0.7502" stop-color="#f7e924"/><stop offset="0.7737" stop-color="#f9ca21"/><stop offset="0.8090" stop-color="#fc7f19"/><stop offset="0.8404" stop-color="#fc7f19"/><stop offset="0.8600" stop-color="#fc8019"/><stop offset="0.8796" stop-color="#fc7d19"/><stop offset="0.8952" stop-color="#fc8219"/><stop offset="0.9227" stop-color="#fc7718"/><stop offset="0.9737" stop-color="#fba01c"/></linearGradient>
<linearGradient id="g30" x1="0" y1="0" x2="0" y2="1"><stop offset="0.0249" stop-color="#f73112"/><stop offset="0.0837" stop-color="#d0150c"/><stop offset="0.1347" stop-color="#e61d0f"/><stop offset="0.1935" stop-color="#feffdb"/><stop offset="0.2405" stop-color="#fafd62"/><stop offset="0.2993" stop-color="#fc7818"/><stop offset="0.3581" stop-color="#f93a13"/><stop offset="0.3895" stop-color="#fc7818"/><stop offset="0.4170" stop-color="#f9d422"/><stop offset="0.4444" stop-color="#fba41c"/><stop offset="0.4758" stop-color="#fc7718"/><stop offset="0.5150" stop-color="#f8e424"/><stop offset="0.5463" stop-color="#f9fc51"/><stop offset="0.5659" stop-color="#fafd72"/><stop offset="0.5855" stop-color="#fcfe90"/><stop offset="0.6051" stop-color="#fbfe87"/><stop offset="0.6522" stop-color="#fafd70"/><stop offset="0.6914" stop-color="#fafd70"/><stop offset="0.7188" stop-color="#fafd71"/><stop offset="0.7502" stop-color="#fafd6f"/><stop offset="0.7737" stop-color="#f9fc4d"/><stop offset="0.8090" stop-color="#f7fa32"/><stop offset="0.8404" stop-color="#f8fb37"/><stop offset="0.8600" stop-color="#f8fc3a"/><stop offset="0.8796" stop-color="#f8fc40"/><stop offset="0.8952" stop-color="#f8fb38"/><stop offset="0.9227" stop-color="#f9fc4a"/><stop offset="0.9737" stop-color="#f9fd5b"/></linearGradient>
<linearGradient id="g31" x1="0" y1="0" x2="0" y2="1"><stop offset="0.0249" stop-color="#f73212"/><stop offset="0.0837" stop-color="#f42310"/><stop offset="0.1347" stop-color="#f52611"/><stop offset="0.1935" stop-color="#fbfd78"/><stop offset="0.2405" stop-color="#f8d423"/><stop offset="0.2993" stop-color="#fb5015"/><stop offset="0.3581" stop-color="#f83613"/><stop offset="0.3895" stop-color="#fc7d19"/><stop offset="0.4170" stop-color="#f7e624"/><stop offset="0.4444" stop-color="#f9c020"/><stop offset="0.4758" stop-color="#fc8e1a"/><stop offset="0.5150" stop-color="#f8e124"/><stop offset="0.5463" stop-color="#f6f729"/><stop offset="0.5659" stop-color="#f7fa34"/><stop offset="0.5855" stop-color="#f8fc44"/><stop offset="0.6051" stop-color="#f8fc45"/><stop offset="0.6522" stop-color="#f9fc49"/><stop offset="0.6914" stop-color="#f9fc49"/><stop offset="0.7188" stop-color="#f9fc4b"/><stop offset="0.7502" stop-color="#f9fc4d"/><stop offset="0.7737" stop-color="#f8fc45"/><stop offset="0.8090" stop-color="#f8fc3f"/><stop offset="0.8404" stop-color="#f9fd57"/><stop offset="0.8600" stop-color="#fafd66"/><stop offset="0.8796" stop-color="#fbfe89"/><stop offset="0.8952" stop-color="#f9fc50"/><stop offset="0.9227" stop-color="#feffca"/><stop offset="0.9737" stop-color="#fafd6d"/></linearGradient>
<linearGradient id="g32" x1="0" y1="0" x2="0" y2="1"><stop offset="0.0249" stop-color="#f83312"/><stop offset="0.0837" stop-color="#f72f12"/><stop offset="0.1347" stop-color="#f62c11"/><stop offset="0.1935" stop-color="#f7ea24"/><stop offset="0.2405" stop-color="#fc7418"/><stop offset="0.2993" stop-color="#f93b14"/><stop offset="0.3581" stop-color="#f83312"/><stop offset="0.3895" stop-color="#fc7118"/><stop offset="0.4170" stop-color="#f9ce22"/><stop offset="0.4444" stop-color="#fbab1d"/><stop offset="0.4758" stop-color="#fc8519"/><stop offset="0.5150" stop-color="#f8dc24"/><stop offset="0.5463" stop-color="#f7ef24"/><stop offset="0.5659" stop-color="#f6f729"/><stop offset="0.5855" stop-color="#f7f931"/><stop offset="0.6051" stop-color="#f7fa33"/><stop offset="0.6522" stop-color="#f8fb3a"/><stop offset="0.6914" stop-color="#f8fb3a"/><stop offset="0.7188" stop-color="#f8fc3d"/><stop offset="0.7502" stop-color="#f8fc41"/><stop offset="0.7737" stop-color="#f8fc43"/><stop offset="0.8090" stop-color="#f8fc46"/><stop offset="0.8404" stop-color="#fafd65"/><stop offset="0.8600" stop-color="#fbfd78"/><stop offset="0.8796" stop-color="#fdfea9"/><stop offset="0.8952" stop-color="#f9fd5a"/><stop offset="0.9227" stop-color="#fffffa"/><stop offset="0.9737" stop-color="#fafd73"/></linearGradient>
<linearGradient id="g33" x1="0" y1="0" x2="0" y2="1"><stop offset="0.0249" stop-color="#f83312"/><stop offset="0.0837" stop-color="#f62c11"/><stop offset="0.1347" stop-color="#f62b11"/><stop offset="0.1935" stop-color="#fc6f18"/><stop offset="0.2405" stop-color="#fa4214"/><stop offset="0.2993" stop-color="#f83413"/><stop offset="0.3581" stop-color="#f83312"/><stop offset="0.3895" stop-color="#fc5716"/><stop offset="0.4170" stop-color="#fc8019"/><stop offset="0.4444" stop-color="#fc7118"/><stop offset="0.4758" stop-color="#fc6217"/><stop offset="0.5150" stop-color="#f9d322"/><stop offset="0.5463" stop-color="#f6f524"/><stop offset="0.5659" stop-color="#f8fb39"/><stop offset="0.5855" stop-color="#f8fc3a"/><stop offset="0.6051" stop-color="#f8fc3b"/><stop offset="0.6522" stop-color="#f8fc3c"/><stop offset="0.6914" stop-color="#f8fc3c"/><stop offset="0.7188" stop-color="#f8fc45"/><stop offset="0.7502" stop-color="#f9fc4b"/><stop offset="0.7737" stop-color="#f8fc46"/><stop offset="0.8090" stop-color="#f8fc3f"/><stop offset="0.8404" stop-color="#f9fd5c"/><stop offset="0.8600" stop-color="#fafd6e"/><stop offset="0.8796" stop-color="#fcfe9a"/><stop offset="0.8952" stop-color="#f9fc52"/><stop offset="0.9227" stop-color="#fffffa"/><stop offset="0.9737" stop-color="#fafd6c"/></linearGradient>
<linearGradient id="g34" x1="0" y1="0" x2="0" y2="1"><stop offset="0.0249" stop-color="#f83312"/><stop offset="0.0837" stop-color="#f62b11"/><stop offset="0.1347" stop-color="#f62b11"/><stop offset="0.1935" stop-color="#fb4b15"/><stop offset="0.2405" stop-color="#f73212"/><stop offset="0.2993" stop-color="#f73112"/><stop offset="0.3581" stop-color="#f83312"/><stop offset="0.3895" stop-color="#fb4d15"/><stop offset="0.4170" stop-color="#fc6917"/><stop offset="0.4444" stop-color="#fc5f16"/><stop offset="0.4758" stop-color="#fc5416"/><stop offset="0.5150" stop-color="#f9cd21"/><stop offset="0.5463" stop-color="#f6f626"/><stop offset="0.5659" stop-color="#f8fc42"/><stop offset="0.5855" stop-color="#f8fc40"/><stop offset="0.6051" stop-color="#f8fc40"/><stop offset="0.6522" stop-color="#f8fc3f"/><stop offset="0.6914" stop-color="#f8fc3f"/><stop offset="0.7188" stop-color="#f7fa34"/><stop offset="0.7502" stop-color="#f7f82d"/><stop offset="0.7737" stop-color="#f7fa33"/><stop offset="0.8090" stop-color="#f8fc3c"/><stop offset="0.8404" stop-color="#f9fd58"/><stop offset="0.8600" stop-color="#fafd69"/><stop offset="0.8796" stop-color="#fcfe93"/><stop offset="0.8952" stop-color="#f9fc4e"/><stop offset="0.9227" stop-color="#fffffa"/><stop offset="0.9737" stop-color="#fafd69"/></linearGradient>
<linearGradient id="g35" x1="0" y1="0" x2="0" y2="1"><stop offset="0.0249" stop-color="#f83312"/><stop offset="0.0837" stop-color="#f62b11"/><stop offset="0.1347" stop-color="#f62b11"/><stop offset="0.1935" stop-color="#fc5416"/><stop offset="0.2405" stop-color="#f93713"/><stop offset="0.2993" stop-color="#f73212"/><stop offset="0.3581" stop-color="#f83312"/><stop offset="0.3895" stop-color="#fb4f15"/><stop offset="0.4170" stop-color="#fc6e17"/><stop offset="0.4444" stop-color="#fc6317"/><stop offset="0.4758" stop-color="#fc5816"/><stop offset="0.5150" stop-color="#f9ca21"/><stop offset="0.5463" stop-color="#f6f625"/><stop offset="0.5659" stop-color="#f8fc3f"/><stop offset="0.5855" stop-color="#f8fc3e"/><stop offset="0.6051" stop-color="#f8fc3e"/><stop offset="0.6522" stop-color="#f8fc3f"/><stop offset="0.6914" stop-color="#f8fc3f"/><stop offset="0.7188" stop-color="#f7e724"/><stop offset="0.7502" stop-color="#fabe1f"/><stop offset="0.7737" stop-color="#f7e624"/><stop offset="0.8090" stop-color="#f8fc3c"/><stop offset="0.8404" stop-color="#f9fd58"/><stop offset="0.8600" stop-color="#fafd69"/><stop offset="0.8796" stop-color="#fcfe93"/><stop offset="0.8952" stop-color="#f9fc4e"/><stop offset="0.9227" stop-color="#fffffa"/><stop offset="0.9737" stop-color="#fafd69"/></linearGradient>
<linearGradient id="g36" x1="0" y1="0" x2="0" y2="1"><stop offset="0.0249" stop-color="#f83312"/><stop offset="0.0837" stop-color="#f62b11"/><stop offset="0.1347" stop-color="#f62b11"/><stop offset="0.1935" stop-color="#fc5916"/><stop offset="0.2405" stop-color="#f93a13"/><stop offset="0.2993" stop-color="#f83312"/><stop offset="0.3581" stop-color="#f83312"/><stop offset="0.3895" stop-color="#fb5015"/><stop offset="0.4170" stop-color="#fc7118"/><stop offset="0.4444" stop-color="#fc6617"/><stop offset="0.4758" stop-color="#fc5916"/><stop offset="0.5150" stop-color="#fba81d"/><stop offset="0.5463" stop-color="#f8d823"/><stop offset="0.5659" stop-color="#f6f324"/><stop offset="0.5855" stop-color="#f6f324"/><stop offset="0.6051" stop-color="#f6f324"/><stop offset="0.6522" stop-color="#f6f124"/><stop offset="0.6914" stop-color="#f6f124"/><stop offset="0.7188" stop-color="#f9cf22"/><stop offset="0.7502" stop-color="#fabe1f"/><stop offset="0.7737" stop-color="#f7e624"/><stop offset="0.8090" stop-color="#f8fc3c"/><stop offset="0.8404" stop-color="#f9fd58"/><stop offset="0.8600" stop-color="#fafd69"/><stop offset="0.8796" stop-color="#fcfe93"/><stop offset="0.8952" stop-color="#f9fc4e"/><stop offset="0.9227" stop-color="#fffffa"/><stop offset="0.9737" stop-color="#fafd69"/></linearGradient>
<linearGradient id="g37" x1="0" y1="0" x2="0" y2="1"><stop offset="0.0249" stop-color="#f83312"/><stop offset="0.0837" stop-color="#f62b11"/><stop offset="0.1347" stop-color="#f62b11"/><stop offset="0.1935" stop-color="#fc5916"/><stop offset="0.2405" stop-color="#f93a13"/><stop offset="0.2993" stop-color="#f83312"/><stop offset="0.3581" stop-color="#f83312"/><stop offset="0.3895" stop-color="#fb5015"/><stop offset="0.4170" stop-color="#fc7118"/><stop offset="0.4444" stop-color="#fc6617"/><stop offset="0.4758" stop-color="#fc5916"/><stop offset="0.5150" stop-color="#fc7218"/><stop offset="0.5463" stop-color="#fc7f19"/><stop offset="0.5659" stop-color="#fba31c"/><stop offset="0.5855" stop-color="#fba31c"/><stop offset="0.6051" stop-color="#fba31c"/><stop offset="0.6522" stop-color="#fc931b"/><stop offset="0.6914" stop-color="#fc931b"/><stop offset="0.7188" stop-color="#f9c320"/><stop offset="0.7502" stop-color="#f7f82d"/><stop offset="0.7737" stop-color="#f7fa33"/><stop offset="0.8090" stop-color="#f8fc3c"/><stop offset="0.8404" stop-color="#f9fd58"/><stop offset="0.8600" stop-color="#fafd69"/><stop offset="0.8796" stop-color="#fcfe93"/><stop offset="0.8952" stop-color="#f9fc4e"/><stop offset="0.9227" stop-color="#fffffa"/><stop offset="0.9737" stop-color="#fafd69"/></linearGradient>
<linearGradient id="g38" x1="0" y1="0" x2="0" y2="1"><stop offset="0.0249" stop-color="#f83312"/><stop offset="0.0837" stop-color="#f62a11"/><stop offset="0.1347" stop-color="#f62a11"/><stop offset="0.1935" stop-color="#fc5a16"/><stop offset="0.2405" stop-color="#f93a13"/><stop offset="0.2993" stop-color="#f83212"/><stop offset="0.3581" stop-color="#f83212"/><stop offset="0.3895" stop-color="#fb5015"/><stop offset="0.4170" stop-color="#fc7118"/><stop offset="0.4444" stop-color="#fc6517"/><stop offset="0.4758" stop-color="#fc5916"/><stop offset="0.5150" stop-color="#fc7918"/><stop offset="0.5463" stop-color="#fc8319"/><stop offset="0.5659" stop-color="#fba81d"/><stop offset="0.5855" stop-color="#fba81d"/><stop offset="0.6051" stop-color="#fba81d"/><stop offset="0.6522" stop-color="#fb981b"/><stop offset="0.6914" stop-color="#fb981b"/><stop offset="0.7188" stop-color="#f8dd24"/><stop offset="0.7502" stop-color="#f9fc4b"/><stop offset="0.7737" stop-color="#f8fc45"/><stop offset="0.8090" stop-color="#f8fc3c"/><stop offset="0.8404" stop-color="#f9fd59"/><stop offset="0.8600" stop-color="#fafd6b"/><stop offset="0.8796" stop-color="#fcfe94"/><stop offset="0.8952" stop-color="#f9fc4e"/><stop offset="0.9227" stop-color="#fffffa"/><stop offset="0.9737" stop-color="#fafd69"/></linearGradient>
<linearGradient id="g39" x1="0" y1="0" x2="0" y2="1"><stop offset="0.0249" stop-color="#f83212"/><stop offset="0.0837" stop-color="#f62911"/><stop offset="0.1347" stop-color="#f62911"/><stop offset="0.1935" stop-color="#fc5a16"/><stop offset="0.2405" stop-color="#f93913"/><stop offset="0.2993" stop-color="#f73212"/><stop offset="0.3581" stop-color="#f73212"/><stop offset="0.3895" stop-color="#fb4f15"/><stop offset="0.4170" stop-color="#fc6f18"/><stop offset="0.4444" stop-color="#fc6417"/><stop offset="0.4758" stop-color="#fc5816"/><stop offset="0.5150" stop-color="#f9c821"/><stop offset="0.5463" stop-color="#f7e424"/><stop offset="0.5659" stop-color="#f7f82a"/><stop offset="0.5855" stop-color="#f7f82a"/><stop offset="0.6051" stop-color="#f7f82a"/><stop offset="0.6522" stop-color="#f6f728"/><stop offset="0.6914" stop-color="#f6f728"/><stop offset="0.7188" stop-color="#f7f932"/><stop offset="0.7502" stop-color="#f8fc41"/><stop offset="0.7737" stop-color="#f8fc3f"/><stop offset="0.8090" stop-color="#f8fc3c"/><stop offset="0.8404" stop-color="#f9fd5b"/><stop offset="0.8600" stop-color="#fafd6e"/><stop offset="0.8796" stop-color="#fcfe97"/><stop offset="0.8952" stop-color="#f9fc4e"/><stop offset="0.9227" stop-color="#fffffa"/><stop offset="0.9737" stop-color="#fafd69"/></linearGradient>
<linearGradient id="g40" x1="0" y1="0" x2="0" y2="1"><stop offset="0.0249" stop-color="#f83312"/><stop offset="0.0837" stop-color="#f62d12"/><stop offset="0.1347" stop-color="#f62d12"/><stop offset="0.1935" stop-color="#fc5816"/><stop offset="0.2405" stop-color="#f93a13"/><stop offset="0.2993" stop-color="#f83513"/><stop offset="0.3581" stop-color="#f83513"/><stop offset="0.3895" stop-color="#fc5316"/><stop offset="0.4170" stop-color="#fc7418"/><stop offset="0.4444" stop-color="#fc6817"/><stop offset="0.4758" stop-color="#fc5b16"/><stop offset="0.5150" stop-color="#f7e924"/><stop offset="0.5463" stop-color="#f7f931"/><stop offset="0.5659" stop-color="#f9fd55"/><stop offset="0.5855" stop-color="#f9fd55"/><stop offset="0.6051" stop-color="#f9fd55"/><stop offset="0.6522" stop-color="#f9fd57"/><stop offset="0.6914" stop-color="#f9fd57"/><stop offset="0.7188" stop-color="#f9fc4e"/><stop offset="0.7502" stop-color="#f8fc42"/><stop offset="0.7737" stop-color="#f8fc3c"/><stop offset="0.8090" stop-color="#f8fc3c"/><stop offset="0.8404" stop-color="#f9fd54"/><stop offset="0.8600" stop-color="#fafd63"/><stop offset="0.8796" stop-color="#fcfe8f"/><stop offset="0.8952" stop-color="#f9fc4e"/><stop offset="0.9227" stop-color="#fffffa"/><stop offset="0.9737" stop-color="#fafd6b"/></linearGradient>
<linearGradient id="g41" x1="0" y1="0" x2="0" y2="1"><stop offset="0.0249" stop-color="#f83513"/><stop offset="0.0837" stop-color="#f83513"/><stop offset="0.1347" stop-color="#f83513"/><stop offset="0.1935" stop-color="#fc5216"/><stop offset="0.2405" stop-color="#fa3c14"/><stop offset="0.2993" stop-color="#f93b14"/><stop offset="0.3581" stop-color="#f93b14"/><stop offset="0.3895" stop-color="#fc5b16"/><stop offset="0.4170" stop-color="#fc7e19"/><stop offset="0.4444" stop-color="#fc7118"/><stop offset="0.4758" stop-color="#fc6217"/><stop offset="0.5150" stop-color="#f7e524"/><stop offset="0.5463" stop-color="#f7fa32"/><stop offset="0.5659" stop-color="#f9fd56"/><stop offset="0.5855" stop-color="#f9fd56"/><stop offset="0.6051" stop-color="#f9fd56"/><stop offset="0.6522" stop-color="#f9fd57"/><stop offset="0.6914" stop-color="#f9fd57"/><stop offset="0.7188" stop-color="#f9fc52"/><stop offset="0.7502" stop-color="#f9fc4e"/><stop offset="0.7737" stop-color="#f8fc3c"/><stop offset="0.8090" stop-color="#f8fc3c"/><stop offset="0.8404" stop-color="#f8fc44"/><stop offset="0.8600" stop-color="#f9fc49"/><stop offset="0.8796" stop-color="#fbfd7d"/><stop offset="0.8952" stop-color="#f9fc4e"/><stop offset="0.9227" stop-color="#fffffa"/><stop offset="0.9737" stop-color="#fafd6e"/></linearGradient>
<linearGradient id="g42" x1="0" y1="0" x2="0" y2="1"><stop offset="0.0249" stop-color="#f93813"/><stop offset="0.0837" stop-color="#f93813"/><stop offset="0.1347" stop-color="#f93813"/><stop offset="0.1935" stop-color="#fb4f15"/><stop offset="0.2405" stop-color="#fa3d14"/><stop offset="0.2993" stop-color="#fa3e14"/><stop offset="0.3581" stop-color="#fa3e14"/><stop offset="0.3895" stop-color="#fc5d16"/><stop offset="0.4170" stop-color="#fc7e19"/><stop offset="0.4444" stop-color="#fc7518"/><stop offset="0.4758" stop-color="#fc6c17"/><stop offset="0.5150" stop-color="#fba31c"/><stop offset="0.5463" stop-color="#f8e124"/><stop offset="0.5659" stop-color="#f6f727"/><stop offset="0.5855" stop-color="#f6f727"/><stop offset="0.6051" stop-color="#f6f727"/><stop offset="0.6522" stop-color="#f6f727"/><stop offset="0.6914" stop-color="#f6f727"/><stop offset="0.7188" stop-color="#f6f729"/><stop offset="0.7502" stop-color="#f6f72a"/><stop offset="0.7737" stop-color="#f8fc3d"/><stop offset="0.8090" stop-color="#f8fc3e"/><stop offset="0.8404" stop-color="#f8fb3a"/><stop offset="0.8600" stop-color="#f8fb38"/><stop offset="0.8796" stop-color="#fafd6f"/><stop offset="0.8952" stop-color="#f9fc4e"/><stop offset="0.9227" stop-color="#fffffa"/><stop offset="0.9737" stop-color="#fafd61"/></linearGradient>
<linearGradient id="g43" x1="0" y1="0" x2="0" y2="1"><stop offset="0.0249" stop-color="#fa3c14"/><stop offset="0.0837" stop-color="#f83713"/><stop offset="0.1347" stop-color="#f83713"/><stop offset="0.1935" stop-color="#fb5015"/><stop offset="0.2405" stop-color="#fa3d14"/><stop offset="0.2993" stop-color="#fa3d14"/><stop offset="0.3581" stop-color="#fa3d14"/><stop offset="0.3895" stop-color="#fc5816"/><stop offset="0.4170" stop-color="#fc7418"/><stop offset="0.4444" stop-color="#fc7618"/><stop offset="0.4758" stop-color="#fc7a18"/><stop offset="0.5150" stop-color="#fb4815"/><stop offset="0.5463" stop-color="#fc7518"/><stop offset="0.5659" stop-color="#fc921b"/><stop offset="0.5855" stop-color="#fc921b"/><stop offset="0.6051" stop-color="#fc921b"/><stop offset="0.6522" stop-color="#fc921b"/><stop offset="0.6914" stop-color="#fc921b"/><stop offset="0.7188" stop-color="#fba41c"/><stop offset="0.7502" stop-color="#fba61d"/><stop offset="0.7737" stop-color="#f8fc3e"/><stop offset="0.8090" stop-color="#f8fc41"/><stop offset="0.8404" stop-color="#f7fa35"/><stop offset="0.8600" stop-color="#f7f92f"/><stop offset="0.8796" stop-color="#fafd64"/><stop offset="0.8952" stop-color="#f9fc4d"/><stop offset="0.9227" stop-color="#fffffa"/><stop offset="0.9737" stop-color="#f8fc44"/></linearGradient>
<linearGradient id="g44" x1="0" y1="0" x2="0" y2="1"><stop offset="0.0249" stop-color="#fa3d14"/><stop offset="0.0837" stop-color="#f83613"/><stop offset="0.1347" stop-color="#f83613"/><stop offset="0.1935" stop-color="#fb5015"/><stop offset="0.2405" stop-color="#fa3d14"/><stop offset="0.2993" stop-color="#fa3d14"/><stop offset="0.3581" stop-color="#fa3d14"/><stop offset="0.3895" stop-color="#fc6b17"/><stop offset="0.4170" stop-color="#fba61c"/><stop offset="0.4444" stop-color="#fb9a1b"/><stop offset="0.4758" stop-color="#fc8c1a"/><stop offset="0.5150" stop-color="#fc5216"/><stop offset="0.5463" stop-color="#fc8319"/><stop offset="0.5659" stop-color="#fba91d"/><stop offset="0.5855" stop-color="#fba91d"/><stop offset="0.6051" stop-color="#fba91d"/><stop offset="0.6522" stop-color="#fba91d"/><stop offset="0.6914" stop-color="#fba91d"/><stop offset="0.7188" stop-color="#fab21e"/><stop offset="0.7502" stop-color="#fab01d"/><stop offset="0.7737" stop-color="#f8fc3e"/><stop offset="0.8090" stop-color="#f8fc3b"/><stop offset="0.8404" stop-color="#f6f625"/><stop offset="0.8600" stop-color="#f7e924"/><stop offset="0.8796" stop-color="#f8fc45"/><stop offset="0.8952" stop-color="#f9fc52"/><stop offset="0.9227" stop-color="#fffffa"/><stop offset="0.9737" stop-color="#f8fb39"/></linearGradient>
<linearGradient id="g45" x1="0" y1="0" x2="0" y2="1"><stop offset="0.0249" stop-color="#fa3d14"/><stop offset="0.0837" stop-color="#f83613"/><stop offset="0.1347" stop-color="#f83613"/><stop offset="0.1935" stop-color="#fb4e15"/><stop offset="0.2405" stop-color="#fa3d14"/><stop offset="0.2993" stop-color="#fa3d14"/><stop offset="0.3581" stop-color="#fa3d14"/><stop offset="0.3895" stop-color="#fba41c"/><stop offset="0.4170" stop-color="#f8fc3d"/><stop offset="0.4444" stop-color="#f7ea24"/><stop offset="0.4758" stop-color="#faae1d"/><stop offset="0.5150" stop-color="#f8dc24"/><stop offset="0.5463" stop-color="#f8fb36"/><stop offset="0.5659" stop-color="#fafd5e"/><stop offset="0.5855" stop-color="#fafd5e"/><stop offset="0.6051" stop-color="#fafd5e"/><stop offset="0.6522" stop-color="#fafd5e"/><stop offset="0.6914" stop-color="#fafd5e"/><stop offset="0.7188" stop-color="#f8fc44"/><stop offset="0.7502" stop-color="#f8fb3a"/><stop offset="0.7737" stop-color="#f8fc3c"/><stop offset="0.8090" stop-color="#f7fa33"/><stop offset="0.8404" stop-color="#f8da23"/><stop offset="0.8600" stop-color="#faaf1d"/><stop offset="0.8796" stop-color="#f6f626"/><stop offset="0.8952" stop-color="#f9fd5c"/><stop offset="0.9227" stop-color="#fffffa"/><stop offset="0.9737" stop-color="#f8fc3b"/></linearGradient>
<linearGradient id="g46" x1="0" y1="0" x2="0" y2="1"><stop offset="0.0249" stop-color="#fa3d14"/><stop offset="0.0837" stop-color="#f83613"/><stop offset="0.1347" stop-color="#f83613"/><stop offset="0.1935" stop-color="#fc5316"/><stop offset="0.2405" stop-color="#fa3d14"/><stop offset="0.2993" stop-color="#fa3d14"/><stop offset="0.3581" stop-color="#fa3d14"/><stop offset="0.3895" stop-color="#fb9e1c"/><stop offset="0.4170" stop-color="#f8fb37"/><stop offset="0.4444" stop-color="#f8e124"/><stop offset="0.4758" stop-color="#fc951b"/><stop offset="0.5150" stop-color="#f8dc24"/><stop offset="0.5463" stop-color="#f7f82d"/><stop offset="0.5659" stop-color="#f9fc4d"/><stop offset="0.5855" stop-color="#f9fc4d"/><stop offset="0.6051" stop-color="#f9fc4d"/><stop offset="0.6522" stop-color="#f9fc4d"/><stop offset="0.6914" stop-color="#f9fc4d"/><stop offset="0.7188" stop-color="#f8fc3b"/><stop offset="0.7502" stop-color="#f7f82d"/><stop offset="0.7737" stop-color="#f6f727"/><stop offset="0.8090" stop-color="#f7e424"/><stop offset="0.8404" stop-color="#fb971b"/><stop offset="0.8600" stop-color="#fc7218"/><stop offset="0.8796" stop-color="#f8d723"/><stop offset="0.8952" stop-color="#f8fc3f"/><stop offset="0.9227" stop-color="#fffffa"/><stop offset="0.9737" stop-color="#f8fc3a"/></linearGradient>
<linearGradient id="g47" x1="0" y1="0" x2="0" y2="1"><stop offset="0.0249" stop-color="#fa3d14"/><stop offset="0.0837" stop-color="#f83613"/><stop offset="0.1347" stop-color="#f83613"/><stop offset="0.1935" stop-color="#fc6017"/><stop offset="0.2405" stop-color="#fa3d14"/><stop offset="0.2993" stop-color="#fa3d14"/><stop offset="0.3581" stop-color="#fa3d14"/><stop offset="0.3895" stop-color="#fc6117"/><stop offset="0.4170" stop-color="#fc881a"/><stop offset="0.4444" stop-color="#fc7418"/><stop offset="0.4758" stop-color="#fc6017"/><stop offset="0.5150" stop-color="#fc5216"/><stop offset="0.5463" stop-color="#fc6617"/><stop offset="0.5659" stop-color="#fc7f19"/><stop offset="0.5855" stop-color="#fc7f19"/><stop offset="0.6051" stop-color="#fc7f19"/><stop offset="0.6522" stop-color="#fc7f19"/><stop offset="0.6914" stop-color="#fc7f19"/><stop offset="0.7188" stop-color="#fb971b"/><stop offset="0.7502" stop-color="#fc7918"/><stop offset="0.7737" stop-color="#f9ca21"/><stop offset="0.8090" stop-color="#fc891a"/><stop offset="0.8404" stop-color="#fc5d16"/><stop offset="0.8600" stop-color="#fb4615"/><stop offset="0.8796" stop-color="#fba11c"/><stop offset="0.8952" stop-color="#f7ec24"/><stop offset="0.9227" stop-color="#fffffa"/><stop offset="0.9737" stop-color="#f8fb37"/></linearGradient>
<linearGradient id="g48" x1="0" y1="0" x2="0" y2="1"><stop offset="0.0249" stop-color="#fa3e14"/><stop offset="0.0837" stop-color="#f93813"/><stop offset="0.1347" stop-color="#f83713"/><stop offset="0.1935" stop-color="#fc6817"/><stop offset="0.2405" stop-color="#fa3c14"/><stop offset="0.2993" stop-color="#f52911"/><stop offset="0.3581" stop-color="#fa3d14"/><stop offset="0.3895" stop-color="#fb4915"/><stop offset="0.4170" stop-color="#fc5516"/><stop offset="0.4444" stop-color="#fb4d15"/><stop offset="0.4758" stop-color="#fa4414"/><stop offset="0.5150" stop-color="#f62a11"/><stop offset="0.5463" stop-color="#f72f12"/><stop offset="0.5659" stop-color="#fa4014"/><stop offset="0.5855" stop-color="#fa4014"/><stop offset="0.6051" stop-color="#fa4014"/><stop offset="0.6522" stop-color="#fa4114"/><stop offset="0.6914" stop-color="#fa4114"/><stop offset="0.7188" stop-color="#fc5916"/><stop offset="0.7502" stop-color="#fa4414"/><stop offset="0.7737" stop-color="#fc8e1a"/><stop offset="0.8090" stop-color="#fc5b16"/><stop offset="0.8404" stop-color="#fb4f15"/><stop offset="0.8600" stop-color="#fb4815"/><stop offset="0.8796" stop-color="#fba41c"/><stop offset="0.8952" stop-color="#f7ec24"/><stop offset="0.9227" stop-color="#fffffa"/><stop offset="0.9737" stop-color="#f9fc4f"/></linearGradient>
<linearGradient id="g49" x1="0" y1="0" x2="0" y2="1"><stop offset="0.0249" stop-color="#fa4214"/><stop offset="0.0837" stop-color="#f93a13"/><stop offset="0.1347" stop-color="#f93813"/><stop offset="0.1935" stop-color="#fc6917"/><stop offset="0.2405" stop-color="#f93b14"/><stop offset="0.2993" stop-color="#b4100a"/><stop offset="0.3581" stop-color="#fa3d14"/><stop offset="0.3895" stop-color="#fb4615"/><stop offset="0.4170" stop-color="#fb5015"/><stop offset="0.4444" stop-color="#fb4515"/><stop offset="0.4758" stop-color="#f93a13"/><stop offset="0.5150" stop-color="#f62d12"/><stop offset="0.5463" stop-color="#f32210"/><stop offset="0.5659" stop-color="#f83613"/><stop offset="0.5855" stop-color="#f83613"/><stop offset="0.6051" stop-color="#f83613"/><stop offset="0.6522" stop-color="#f93913"/><stop offset="0.6914" stop-color="#f93913"/><stop offset="0.7188" stop-color="#fb4715"/><stop offset="0.7502" stop-color="#f93913"/><stop offset="0.7737" stop-color="#fc6c17"/><stop offset="0.8090" stop-color="#fa4214"/><stop offset="0.8404" stop-color="#fc6317"/><stop offset="0.8600" stop-color="#fc7b18"/><stop offset="0.8796" stop-color="#f8df24"/><stop offset="0.8952" stop-color="#f8fc3f"/><stop offset="0.9227" stop-color="#fffffa"/><stop offset="0.9737" stop-color="#fcfe90"/></linearGradient>
<linearGradient id="g50" x1="0" y1="0" x2="0" y2="1"><stop offset="0.0249" stop-color="#f83413"/><stop offset="0.0837" stop-color="#f62e12"/><stop offset="0.1347" stop-color="#f83413"/><stop offset="0.1935" stop-color="#fabb1f"/><stop offset="0.2405" stop-color="#fa4114"/><stop offset="0.2993" stop-color="#af1009"/><stop offset="0.3581" stop-color="#fa4114"/><stop offset="0.3895" stop-color="#fb4815"/><stop offset="0.4170" stop-color="#fb4e15"/><stop offset="0.4444" stop-color="#fb4815"/><stop offset="0.4758" stop-color="#fa4214"/><stop offset="0.5150" stop-color="#fb4915"/><stop offset="0.5463" stop-color="#fb4a15"/><stop offset="0.5659" stop-color="#fc6017"/><stop offset="0.5855" stop-color="#fc6117"/><stop offset="0.6051" stop-color="#fc6017"/><stop offset="0.6522" stop-color="#fc5916"/><stop offset="0.6914" stop-color="#fc5916"/><stop offset="0.7188" stop-color="#fc6317"/><stop offset="0.7502" stop-color="#fc5816"/><stop offset="0.7737" stop-color="#fc7418"/><stop offset="0.8090" stop-color="#fb4c15"/><stop offset="0.8404" stop-color="#fc7918"/><stop offset="0.8600" stop-color="#fba01c"/><stop offset="0.8796" stop-color="#f6f224"/><stop offset="0.8952" stop-color="#fafd62"/><stop offset="0.9227" stop-color="#fffffa"/><stop offset="0.9737" stop-color="#fcfe8d"/></linearGradient>
<linearGradient id="g51" x1="0" y1="0" x2="0" y2="1"><stop offset="0.0249" stop-color="#d4170d"/><stop offset="0.0837" stop-color="#d2160d"/><stop offset="0.1347" stop-color="#f62b11"/><stop offset="0.1935" stop-color="#fcfe95"/><stop offset="0.2405" stop-color="#fb4f15"/><stop offset="0.2993" stop-color="#ee200f"/><stop offset="0.3581" stop-color="#fb4915"/><stop offset="0.3895" stop-color="#fb4c15"/><stop offset="0.4170" stop-color="#fb5015"/><stop offset="0.4444" stop-color="#fc5716"/><stop offset="0.4758" stop-color="#fc6117"/><stop offset="0.5150" stop-color="#fc941b"/><stop offset="0.5463" stop-color="#f8e324"/><stop offset="0.5659" stop-color="#f6f729"/><stop offset="0.5855" stop-color="#f7f82b"/><stop offset="0.6051" stop-color="#f6f729"/><stop offset="0.6522" stop-color="#f9d322"/><stop offset="0.6914" stop-color="#f9d322"/><stop offset="0.7188" stop-color="#f9d422"/><stop offset="0.7502" stop-color="#f9d022"/><stop offset="0.7737" stop-color="#fab81e"/><stop offset="0.8090" stop-color="#fc8519"/><stop offset="0.8404" stop-color="#fc961b"/><stop offset="0.8600" stop-color="#fba41c"/><stop offset="0.8796" stop-color="#f6f324"/><stop offset="0.8952" stop-color="#fafd64"/><stop offset="0.9227" stop-color="#fffffa"/><stop offset="0.9737" stop-color="#f8fc45"/></linearGradient>
<linearGradient id="g52" x1="0" y1="0" x2="0" y2="1"><stop offset="0.0249" stop-color="#d1150c"/><stop offset="0.0837" stop-color="#d2160d"/><stop offset="0.1347" stop-color="#f62d12"/><stop offset="0.1935" stop-color="#fbfe7f"/><stop offset="0.2405" stop-color="#fb4e15"/><stop offset="0.2993" stop-color="#f73012"/><stop offset="0.3581" stop-color="#f52711"/><stop offset="0.3895" stop-color="#fa3c14"/><stop offset="0.4170" stop-color="#fb4e15"/><stop offset="0.4444" stop-color="#fc5816"/><stop offset="0.4758" stop-color="#fc6417"/><stop offset="0.5150" stop-color="#fc8c1a"/><stop offset="0.5463" stop-color="#f8dd24"/><stop offset="0.5659" stop-color="#f6f524"/><stop offset="0.5855" stop-color="#f6f124"/><stop offset="0.6051" stop-color="#f6f524"/><stop offset="0.6522" stop-color="#f9c921"/><stop offset="0.6914" stop-color="#f9c921"/><stop offset="0.7188" stop-color="#f9cd21"/><stop offset="0.7502" stop-color="#f9d222"/><stop offset="0.7737" stop-color="#fab61e"/><stop offset="0.8090" stop-color="#fc891a"/><stop offset="0.8404" stop-color="#fc7f19"/><stop offset="0.8600" stop-color="#fc7918"/><stop offset="0.8796" stop-color="#f8de24"/><stop offset="0.8952" stop-color="#f8fc3d"/><stop offset="0.9227" stop-color="#fffffa"/><stop offset="0.9737" stop-color="#f8fc45"/></linearGradient>
<linearGradient id="g53" x1="0" y1="0" x2="0" y2="1"><stop offset="0.0249" stop-color="#f62d12"/><stop offset="0.0837" stop-color="#f62e12"/><stop offset="0.1347" stop-color="#f93a13"/><stop offset="0.1935" stop-color="#fc8419"/><stop offset="0.2405" stop-color="#fa3d14"/><stop offset="0.2993" stop-color="#f62a11"/><stop offset="0.3581" stop-color="#780805"/><stop offset="0.3895" stop-color="#df1a0e"/><stop offset="0.4170" stop-color="#fb4915"/><stop offset="0.4444" stop-color="#fb4a15"/><stop offset="0.4758" stop-color="#fb4a15"/><stop offset="0.5150" stop-color="#fa3e14"/><stop offset="0.5463" stop-color="#fa3c14"/><stop offset="0.5659" stop-color="#fb4f15"/><stop offset="0.5855" stop-color="#fa4014"/><stop offset="0.6051" stop-color="#fb4f15"/><stop offset="0.6522" stop-color="#fb4815"/><stop offset="0.6914" stop-color="#fb4815"/><stop offset="0.7188" stop-color="#fc5816"/><stop offset="0.7502" stop-color="#fc5b16"/><stop offset="0.7737" stop-color="#fc7018"/><stop offset="0.8090" stop-color="#fc5616"/><stop offset="0.8404" stop-color="#fb4715"/><stop offset="0.8600" stop-color="#fa3e14"/><stop offset="0.8796" stop-color="#fc961b"/><stop offset="0.8952" stop-color="#f8e424"/><stop offset="0.9227" stop-color="#fffffa"/><stop offset="0.9737" stop-color="#fcfe8d"/></linearGradient>
<linearGradient id="g54" x1="0" y1="0" x2="0" y2="1"><stop offset="0.0249" stop-color="#f93a13"/><stop offset="0.0837" stop-color="#f93a13"/><stop offset="0.1347" stop-color="#fa3f14"/><stop offset="0.1935" stop-color="#fc5e16"/><stop offset="0.2405" stop-color="#fa4014"/><stop offset="0.2993" stop-color="#f72e12"/><stop offset="0.3581" stop-color="#6d0704"/><stop offset="0.3895" stop-color="#e81e0f"/><stop offset="0.4170" stop-color="#fc5b16"/><stop offset="0.4444" stop-color="#fc5e16"/><stop offset="0.4758" stop-color="#fc6117"/><stop offset="0.5150" stop-color="#f62d12"/><stop offset="0.5463" stop-color="#ec1f0f"/><stop offset="0.5659" stop-color="#f73212"/><stop offset="0.5855" stop-color="#f42210"/><stop offset="0.6051" stop-color="#f73212"/><stop offset="0.6522" stop-color="#f83513"/><stop offset="0.6914" stop-color="#f83513"/><stop offset="0.7188" stop-color="#f93b14"/><stop offset="0.7502" stop-color="#f93813"/><stop offset="0.7737" stop-color="#fb5015"/><stop offset="0.8090" stop-color="#f93813"/><stop offset="0.8404" stop-color="#f73012"/><stop offset="0.8600" stop-color="#f62a11"/><stop offset="0.8796" stop-color="#fc7d19"/><stop offset="0.8952" stop-color="#f9c821"/><stop offset="0.9227" stop-color="#fffffa"/><stop offset="0.9737" stop-color="#fcfe8f"/></linearGradient>
<linearGradient id="g55" x1="0" y1="0" x2="0" y2="1"><stop offset="0.0249" stop-color="#f93813"/><stop offset="0.0837" stop-color="#f93813"/><stop offset="0.1347" stop-color="#fa3d14"/><stop offset="0.1935" stop-color="#fab61e"/><stop offset="0.2405" stop-color="#fc5c16"/><stop offset="0.2993" stop-color="#f93a13"/><stop offset="0.3581" stop-color="#dc1a0e"/><stop offset="0.3895" stop-color="#fb4c15"/><stop offset="0.4170" stop-color="#fc8b1a"/><stop offset="0.4444" stop-color="#fbaa1d"/><stop offset="0.4758" stop-color="#f9cd21"/><stop offset="0.5150" stop-color="#fa4414"/><stop offset="0.5463" stop-color="#fb4715"/><stop offset="0.5659" stop-color="#fc5d16"/><stop offset="0.5855" stop-color="#fc5916"/><stop offset="0.6051" stop-color="#fc5d16"/><stop offset="0.6522" stop-color="#fc5e16"/><stop offset="0.6914" stop-color="#fc5e16"/><stop offset="0.7188" stop-color="#fb4815"/><stop offset="0.7502" stop-color="#f93b14"/><stop offset="0.7737" stop-color="#fa4014"/><stop offset="0.8090" stop-color="#f42310"/><stop offset="0.8404" stop-color="#f62b11"/><stop offset="0.8600" stop-color="#f73012"/><stop offset="0.8796" stop-color="#fc8219"/><stop offset="0.8952" stop-color="#f9d022"/><stop offset="0.9227" stop-color="#fffffa"/><stop offset="0.9737" stop-color="#f9fc4a"/></linearGradient>
<linearGradient id="g56" x1="0" y1="0" x2="0" y2="1"><stop offset="0.0249" stop-color="#f83613"/><stop offset="0.0837" stop-color="#f83613"/><stop offset="0.1347" stop-color="#fa3d14"/><stop offset="0.1935" stop-color="#f8fb39"/><stop offset="0.2405" stop-color="#fc7418"/><stop offset="0.2993" stop-color="#fa3f14"/><stop offset="0.3581" stop-color="#f93813"/><stop offset="0.3895" stop-color="#fc6f18"/><stop offset="0.4170" stop-color="#fabf1f"/><stop offset="0.4444" stop-color="#f7e524"/><stop offset="0.4758" stop-color="#f7f931"/><stop offset="0.5150" stop-color="#fc7518"/><stop offset="0.5463" stop-color="#fc911b"/><stop offset="0.5659" stop-color="#fabb1f"/><stop offset="0.5855" stop-color="#fabf1f"/><stop offset="0.6051" stop-color="#fabb1f"/><stop offset="0.6522" stop-color="#fabb1f"/><stop offset="0.6914" stop-color="#fabb1f"/><stop offset="0.7188" stop-color="#fc6f18"/><stop offset="0.7502" stop-color="#fb5015"/><stop offset="0.7737" stop-color="#fa4114"/><stop offset="0.8090" stop-color="#e51d0e"/><stop offset="0.8404" stop-color="#f52911"/><stop offset="0.8600" stop-color="#f83312"/><stop offset="0.8796" stop-color="#fc8519"/><stop offset="0.8952" stop-color="#f8d423"/><stop offset="0.9227" stop-color="#fffffa"/><stop offset="0.9737" stop-color="#f8fb3a"/></linearGradient>
<linearGradient id="g57" x1="0" y1="0" x2="0" y2="1"><stop offset="0.0249" stop-color="#f83613"/><stop offset="0.0837" stop-color="#f83613"/><stop offset="0.1347" stop-color="#fa3d14"/><stop offset="0.1935" stop-color="#fdfec3"/><stop offset="0.2405" stop-color="#fc881a"/><stop offset="0.2993" stop-color="#fa3d14"/><stop offset="0.3581" stop-color="#fa3d14"/><stop offset="0.3895" stop-color="#fc7c19"/><stop offset="0.4170" stop-color="#f8d923"/><stop offset="0.4444" stop-color="#f6f524"/><stop offset="0.4758" stop-color="#f8fc44"/><stop offset="0.5150" stop-color="#f8e424"/><stop offset="0.5463" stop-color="#f8fb38"/><stop offset="0.5659" stop-color="#fafd62"/><stop offset="0.5855" stop-color="#fafd64"/><stop offset="0.6051" stop-color="#fafd62"/><stop offset="0.6522" stop-color="#fafd62"/><stop offset="0.6914" stop-color="#fafd62"/><stop offset="0.7188" stop-color="#f9d122"/><stop offset="0.7502" stop-color="#fc8119"/><stop offset="0.7737" stop-color="#fc5416"/><stop offset="0.8090" stop-color="#e71d0f"/><stop offset="0.8404" stop-color="#f62a11"/><stop offset="0.8600" stop-color="#f83312"/><stop offset="0.8796" stop-color="#fc8519"/><stop offset="0.8952" stop-color="#f8d423"/><stop offset="0.9227" stop-color="#fffffa"/><stop offset="0.9737" stop-color="#f9fd59"/></linearGradient>
<linearGradient id="g58" x1="0" y1="0" x2="0" y2="1"><stop offset="0.0249" stop-color="#f93913"/><stop offset="0.0837" stop-color="#f93813"/><stop offset="0.1347" stop-color="#fa3d14"/><stop offset="0.1935" stop-color="#fcfe94"/><stop offset="0.2405" stop-color="#fc7618"/><stop offset="0.2993" stop-color="#fa3d14"/><stop offset="0.3581" stop-color="#fa3f14"/><stop offset="0.3895" stop-color="#fc7418"/><stop offset="0.4170" stop-color="#fabf1f"/><stop offset="0.4444" stop-color="#f8de24"/><stop offset="0.4758" stop-color="#f6f424"/><stop offset="0.5150" stop-color="#f8e024"/><stop offset="0.5463" stop-color="#f7fa33"/><stop offset="0.5659" stop-color="#f9fd57"/><stop offset="0.5855" stop-color="#f9fd57"/><stop offset="0.6051" stop-color="#f9fd57"/><stop offset="0.6522" stop-color="#f9fd57"/><stop offset="0.6914" stop-color="#f9fd57"/><stop offset="0.7188" stop-color="#f8dd24"/><stop offset="0.7502" stop-color="#fc941b"/><stop offset="0.7737" stop-color="#fc5c16"/><stop offset="0.8090" stop-color="#f22110"/><stop offset="0.8404" stop-color="#f62c11"/><stop offset="0.8600" stop-color="#f73212"/><stop offset="0.8796" stop-color="#fc8519"/><stop offset="0.8952" stop-color="#f9d322"/><stop offset="0.9227" stop-color="#fffffa"/><stop offset="0.9737" stop-color="#fbfd79"/></linearGradient>
<linearGradient id="g59" x1="0" y1="0" x2="0" y2="1"><stop offset="0.0249" stop-color="#fa3e14"/><stop offset="0.0837" stop-color="#f93a13"/><stop offset="0.1347" stop-color="#fa3d14"/><stop offset="0.1935" stop-color="#fab91e"/><stop offset="0.2405" stop-color="#fb4715"/><stop offset="0.2993" stop-color="#fa3d14"/><stop offset="0.3581" stop-color="#fa3d14"/><stop offset="0.3895" stop-color="#fc5a16"/><stop offset="0.4170" stop-color="#fc7818"/><stop offset="0.4444" stop-color="#fc7e19"/><stop offset="0.4758" stop-color="#fc8519"/><stop offset="0.5150" stop-color="#fc6b17"/><stop offset="0.5463" stop-color="#fc7c19"/><stop offset="0.5659" stop-color="#fb9d1c"/><stop offset="0.5855" stop-color="#fb9d1c"/><stop offset="0.6051" stop-color="#fb9d1c"/><stop offset="0.6522" stop-color="#fb9d1c"/><stop offset="0.6914" stop-color="#fb9d1c"/><stop offset="0.7188" stop-color="#fc8619"/><stop offset="0.7502" stop-color="#fc7c19"/><stop offset="0.7737" stop-color="#fc5716"/><stop offset="0.8090" stop-color="#f62d12"/><stop offset="0.8404" stop-color="#f72f12"/><stop offset="0.8600" stop-color="#f73112"/><stop offset="0.8796" stop-color="#fc8419"/><stop offset="0.8952" stop-color="#f9d222"/><stop offset="0.9227" stop-color="#fffffa"/><stop offset="0.9737" stop-color="#fcfe9a"/></linearGradient>
<linearGradient id="g60" x1="0" y1="0" x2="0" y2="1"><stop offset="0.0249" stop-color="#f52611"/><stop offset="0.0837" stop-color="#f72e12"/><stop offset="0.1347" stop-color="#fa3d14"/><stop offset="0.1935" stop-color="#fc6017"/><stop offset="0.2405" stop-color="#f93713"/><stop offset="0.2993" stop-color="#fa3d14"/><stop offset="0.3581" stop-color="#fa3d14"/><stop offset="0.3895" stop-color="#fb4c15"/><stop offset="0.4170" stop-color="#fc5b16"/><stop offset="0.4444" stop-color="#fc5716"/><stop offset="0.4758" stop-color="#fb5115"/><stop offset="0.5150" stop-color="#fa3f14"/><stop offset="0.5463" stop-color="#fa4214"/><stop offset="0.5659" stop-color="#fc5716"/><stop offset="0.5855" stop-color="#fc5716"/><stop offset="0.6051" stop-color="#fc5716"/><stop offset="0.6522" stop-color="#fc5716"/><stop offset="0.6914" stop-color="#fc5716"/><stop offset="0.7188" stop-color="#fc6217"/><stop offset="0.7502" stop-color="#fc6817"/><stop offset="0.7737" stop-color="#fc5216"/><stop offset="0.8090" stop-color="#f83613"/><stop offset="0.8404" stop-color="#f83613"/><stop offset="0.8600" stop-color="#f83613"/><stop offset="0.8796" stop-color="#fc871a"/><stop offset="0.8952" stop-color="#f8d723"/><stop offset="0.9227" stop-color="#fffff3"/><stop offset="0.9737" stop-color="#fcfe8f"/></linearGradient>
<linearGradient id="g61" x1="0" y1="0" x2="0" y2="1"><stop offset="0.0249" stop-color="#9b0d08"/><stop offset="0.0837" stop-color="#d4170d"/><stop offset="0.1347" stop-color="#fa3d14"/><stop offset="0.1935" stop-color="#fb5115"/><stop offset="0.2405" stop-color="#f93b14"/><stop offset="0.2993" stop-color="#fa3d14"/><stop offset="0.3581" stop-color="#fa3d14"/><stop offset="0.3895" stop-color="#fb4815"/><stop offset="0.4170" stop-color="#fc5216"/><stop offset="0.4444" stop-color="#fb4815"/><stop offset="0.4758" stop-color="#fa3d14"/><stop offset="0.5150" stop-color="#f83312"/><stop offset="0.5463" stop-color="#f83413"/><stop offset="0.5659" stop-color="#fb4615"/><stop offset="0.5855" stop-color="#fb4615"/><stop offset="0.6051" stop-color="#fb4615"/><stop offset="0.6522" stop-color="#fb4615"/><stop offset="0.6914" stop-color="#fb4615"/><stop offset="0.7188" stop-color="#fc5516"/><stop offset="0.7502" stop-color="#fc5716"/><stop offset="0.7737" stop-color="#fb4b15"/><stop offset="0.8090" stop-color="#f93c14"/><stop offset="0.8404" stop-color="#fa3e14"/><stop offset="0.8600" stop-color="#fa4114"/><stop offset="0.8796" stop-color="#fc901a"/><stop offset="0.8952" stop-color="#f8e024"/><stop offset="0.9227" stop-color="#feffd6"/><stop offset="0.9737" stop-color="#f9fd58"/></linearGradient>
<linearGradient id="g62" x1="0" y1="0" x2="0" y2="1"><stop offset="0.0249" stop-color="#800905"/><stop offset="0.0837" stop-color="#cd140c"/><stop offset="0.1347" stop-color="#f93c14"/><stop offset="0.1935" stop-color="#fb4b15"/><stop offset="0.2405" stop-color="#fa3c14"/><stop offset="0.2993" stop-color="#fa3d14"/><stop offset="0.3581" stop-color="#f93a13"/><stop offset="0.3895" stop-color="#fa4414"/><stop offset="0.4170" stop-color="#fb4d15"/><stop offset="0.4444" stop-color="#fa4414"/><stop offset="0.4758" stop-color="#f93a13"/><stop offset="0.5150" stop-color="#fa4014"/><stop offset="0.5463" stop-color="#fb4715"/><stop offset="0.5659" stop-color="#fc5c16"/><stop offset="0.5855" stop-color="#fc5b16"/><stop offset="0.6051" stop-color="#fc5d16"/><stop offset="0.6522" stop-color="#fc5e16"/><stop offset="0.6914" stop-color="#fc6117"/><stop offset="0.7188" stop-color="#fc6517"/><stop offset="0.7502" stop-color="#fc6817"/><stop offset="0.7737" stop-color="#fc6017"/><stop offset="0.8090" stop-color="#fc5516"/><stop offset="0.8404" stop-color="#fb4f15"/><stop offset="0.8600" stop-color="#fb4b15"/><stop offset="0.8796" stop-color="#fb9b1b"/><stop offset="0.8952" stop-color="#f7e724"/><stop offset="0.9227" stop-color="#feffc9"/><stop offset="0.9737" stop-color="#f7fa34"/></linearGradient>
<linearGradient id="g63" x1="0" y1="0" x2="0" y2="1"><stop offset="0.0249" stop-color="#ab0f09"/><stop offset="0.0837" stop-color="#ee200f"/><stop offset="0.1347" stop-color="#f93913"/><stop offset="0.1935" stop-color="#fb4c15"/><stop offset="0.2405" stop-color="#f93b14"/><stop offset="0.2993" stop-color="#fa3f14"/><stop offset="0.3581" stop-color="#f83613"/><stop offset="0.3895" stop-color="#fa4114"/><stop offset="0.4170" stop-color="#fb4d15"/><stop offset="0.4444" stop-color="#fb4915"/><stop offset="0.4758" stop-color="#fa4414"/><stop offset="0.5150" stop-color="#fc7118"/><stop offset="0.5463" stop-color="#fc8e1a"/><stop offset="0.5659" stop-color="#fab71e"/><stop offset="0.5855" stop-color="#fab11e"/><stop offset="0.6051" stop-color="#fabb1f"/><stop offset="0.6522" stop-color="#f9c320"/><stop offset="0.6914" stop-color="#f9d122"/><stop offset="0.7188" stop-color="#fba01c"/><stop offset="0.7502" stop-color="#faad1d"/><stop offset="0.7737" stop-color="#fb9f1c"/><stop offset="0.8090" stop-color="#fc8b1a"/><stop offset="0.8404" stop-color="#fc6717"/><stop offset="0.8600" stop-color="#fc5316"/><stop offset="0.8796" stop-color="#fba61d"/><stop offset="0.8952" stop-color="#f7ee24"/><stop offset="0.9227" stop-color="#feffca"/><stop offset="0.9737" stop-color="#f6f524"/></linearGradient>
<linearGradient id="g64" x1="0" y1="0" x2="0" y2="1"><stop offset="0.0249" stop-color="#ec1f0f"/><stop offset="0.0837" stop-color="#f83312"/><stop offset="0.1347" stop-color="#fa3d14"/><stop offset="0.1935" stop-color="#fc5316"/><stop offset="0.2405" stop-color="#fa4014"/><stop offset="0.2993" stop-color="#fa3d14"/><stop offset="0.3581" stop-color="#fb4515"/><stop offset="0.3895" stop-color="#fb4c15"/><stop offset="0.4170" stop-color="#fc5316"/><stop offset="0.4444" stop-color="#fc5a16"/><stop offset="0.4758" stop-color="#fc6117"/><stop offset="0.5150" stop-color="#fabe1f"/><stop offset="0.5463" stop-color="#f6f524"/><stop offset="0.5659" stop-color="#f8fc3a"/><stop offset="0.5855" stop-color="#f8fb37"/><stop offset="0.6051" stop-color="#f8fb37"/><stop offset="0.6522" stop-color="#f7f930"/><stop offset="0.6914" stop-color="#f6f324"/><stop offset="0.7188" stop-color="#fc881a"/><stop offset="0.7502" stop-color="#fc6217"/><stop offset="0.7737" stop-color="#fc6e17"/><stop offset="0.8090" stop-color="#fc8619"/><stop offset="0.8404" stop-color="#fb4e15"/><stop offset="0.8600" stop-color="#f83413"/><stop offset="0.8796" stop-color="#fc6b17"/><stop offset="0.8952" stop-color="#fbaa1d"/><stop offset="0.9227" stop-color="#f9fd5a"/><stop offset="0.9737" stop-color="#fbaa1d"/></linearGradient>
<linearGradient id="g65" x1="0" y1="0" x2="0" y2="1"><stop offset="0.0249" stop-color="#fb5115"/><stop offset="0.0837" stop-color="#fa4414"/><stop offset="0.1347" stop-color="#fb4b15"/><stop offset="0.1935" stop-color="#fc6017"/><stop offset="0.2405" stop-color="#fb4d15"/><stop offset="0.2993" stop-color="#f93813"/><stop offset="0.3581" stop-color="#fc7318"/><stop offset="0.3895" stop-color="#fc6917"/><stop offset="0.4170" stop-color="#fc6017"/><stop offset="0.4444" stop-color="#fc7918"/><stop offset="0.4758" stop-color="#fb9f1c"/><stop offset="0.5150" stop-color="#f7f82e"/><stop offset="0.5463" stop-color="#fcfe8d"/><stop offset="0.5659" stop-color="#fdfec1"/><stop offset="0.5855" stop-color="#fdfec2"/><stop offset="0.6051" stop-color="#fcfe9a"/><stop offset="0.6522" stop-color="#fafd60"/><stop offset="0.6914" stop-color="#f8de24"/><stop offset="0.7188" stop-color="#fa3e14"/><stop offset="0.7502" stop-color="#780805"/><stop offset="0.7737" stop-color="#bd120b"/><stop offset="0.8090" stop-color="#fb4915"/><stop offset="0.8404" stop-color="#d5170d"/><stop offset="0.8600" stop-color="#950c07"/><stop offset="0.8796" stop-color="#e41c0e"/><stop offset="0.8952" stop-color="#fa3c14"/><stop offset="0.9227" stop-color="#fc8a1a"/><stop offset="0.9737" stop-color="#fa4414"/></linearGradient>
<linearGradient id="g66" x1="0" y1="0" x2="0" y2="1"><stop offset="0.0249" stop-color="#fc8319"/><stop offset="0.0837" stop-color="#fc6617"/><stop offset="0.1347" stop-color="#fb9c1c"/><stop offset="0.1935" stop-color="#fc7018"/><stop offset="0.2405" stop-color="#fc5416"/><stop offset="0.2993" stop-color="#df1b0e"/><stop offset="0.3581" stop-color="#f8e224"/><stop offset="0.3895" stop-color="#fab01d"/><stop offset="0.4170" stop-color="#fc7718"/><stop offset="0.4444" stop-color="#fc8a1a"/><stop offset="0.4758" stop-color="#fbab1d"/><stop offset="0.5150" stop-color="#f7e724"/><stop offset="0.5463" stop-color="#fafd66"/><stop offset="0.5659" stop-color="#fdfead"/><stop offset="0.5855" stop-color="#fffff6"/><stop offset="0.6051" stop-color="#fbfd75"/><stop offset="0.6522" stop-color="#f6f624"/><stop offset="0.6914" stop-color="#fc931b"/><stop offset="0.7188" stop-color="#f42210"/><stop offset="0.7502" stop-color="#3f0402"/><stop offset="0.7737" stop-color="#790905"/><stop offset="0.8090" stop-color="#e71d0f"/><stop offset="0.8404" stop-color="#800905"/><stop offset="0.8600" stop-color="#420402"/><stop offset="0.8796" stop-color="#820906"/><stop offset="0.8952" stop-color="#b9110a"/><stop offset="0.9227" stop-color="#f83613"/><stop offset="0.9737" stop-color="#f52510"/></linearGradient>
<linearGradient id="g67" x1="0" y1="0" x2="0" y2="1"><stop offset="0.0249" stop-color="#fab51e"/><stop offset="0.0837" stop-color="#fbaa1d"/><stop offset="0.1347" stop-color="#fbfe8a"/><stop offset="0.1935" stop-color="#fc8319"/><stop offset="0.2405" stop-color="#fc5416"/><stop offset="0.2993" stop-color="#770805"/><stop offset="0.3581" stop-color="#fcfea6"/><stop offset="0.3895" stop-color="#f8fc3c"/><stop offset="0.4170" stop-color="#fba31c"/><stop offset="0.4444" stop-color="#fc8a1a"/><stop offset="0.4758" stop-color="#fc7618"/><stop offset="0.5150" stop-color="#fc5c16"/><stop offset="0.5463" stop-color="#fb991b"/><stop offset="0.5659" stop-color="#f7f024"/><stop offset="0.5855" stop-color="#fdfec7"/><stop offset="0.6051" stop-color="#f9c220"/><stop offset="0.6522" stop-color="#fc5c16"/><stop offset="0.6914" stop-color="#fb4c15"/><stop offset="0.7188" stop-color="#f52811"/><stop offset="0.7502" stop-color="#b7110a"/><stop offset="0.7737" stop-color="#a80e09"/><stop offset="0.8090" stop-color="#990c07"/><stop offset="0.8404" stop-color="#430402"/><stop offset="0.8600" stop-color="#1b0101"/><stop offset="0.8796" stop-color="#430402"/><stop offset="0.8952" stop-color="#6e0704"/><stop offset="0.9227" stop-color="#b8110a"/><stop offset="0.9737" stop-color="#f72e12"/></linearGradient>
<linearGradient id="g68" x1="0" y1="0" x2="0" y2="1"><stop offset="0.0249" stop-color="#fc8e1a"/><stop offset="0.0837" stop-color="#fc961b"/><stop offset="0.1347" stop-color="#fafd6c"/><stop offset="0.1935" stop-color="#fc7b18"/><stop offset="0.2405" stop-color="#fb4d15"/><stop offset="0.2993" stop-color="#650704"/><stop offset="0.3581" stop-color="#fbfe87"/><stop offset="0.3895" stop-color="#f8e324"/><stop offset="0.4170" stop-color="#fc5716"/><stop offset="0.4444" stop-color="#fa4314"/><stop offset="0.4758" stop-color="#f73012"/><stop offset="0.5150" stop-color="#ce140c"/><stop offset="0.5463" stop-color="#f52911"/><stop offset="0.5659" stop-color="#fc5216"/><stop offset="0.5855" stop-color="#f8d923"/><stop offset="0.6051" stop-color="#fa3d14"/><stop offset="0.6522" stop-color="#c7130b"/><stop offset="0.6914" stop-color="#d7180d"/><stop offset="0.7188" stop-color="#d0150c"/><stop offset="0.7502" stop-color="#c7130b"/><stop offset="0.7737" stop-color="#a90f09"/><stop offset="0.8090" stop-color="#7e0905"/><stop offset="0.8404" stop-color="#3b0302"/><stop offset="0.8600" stop-color="#1e0101"/><stop offset="0.8796" stop-color="#3f0402"/><stop offset="0.8952" stop-color="#640704"/><stop offset="0.9227" stop-color="#a40e08"/><stop offset="0.9737" stop-color="#f73212"/></linearGradient>
<linearGradient id="g69" x1="0" y1="0" x2="0" y2="1"><stop offset="0.0249" stop-color="#fa4114"/><stop offset="0.0837" stop-color="#fb4615"/><stop offset="0.1347" stop-color="#fc6317"/><stop offset="0.1935" stop-color="#fc5916"/><stop offset="0.2405" stop-color="#fa4014"/><stop offset="0.2993" stop-color="#ac0f09"/><stop offset="0.3581" stop-color="#fc951b"/><stop offset="0.3895" stop-color="#f62911"/><stop offset="0.4170" stop-color="#720805"/><stop offset="0.4444" stop-color="#670704"/><stop offset="0.4758" stop-color="#5b0603"/><stop offset="0.5150" stop-color="#460402"/><stop offset="0.5463" stop-color="#570603"/><stop offset="0.5659" stop-color="#700804"/><stop offset="0.5855" stop-color="#9f0d08"/><stop offset="0.6051" stop-color="#710805"/><stop offset="0.6522" stop-color="#440402"/><stop offset="0.6914" stop-color="#650704"/><stop offset="0.7188" stop-color="#680704"/><stop offset="0.7502" stop-color="#6c0704"/><stop offset="0.7737" stop-color="#7e0905"/><stop offset="0.8090" stop-color="#990c07"/><stop offset="0.8404" stop-color="#660704"/><stop offset="0.8600" stop-color="#490402"/><stop offset="0.8796" stop-color="#750805"/><stop offset="0.8952" stop-color="#9b0d08"/><stop offset="0.9227" stop-color="#dc190e"/><stop offset="0.9737" stop-color="#f73112"/></linearGradient>
<linearGradient id="g70" x1="0" y1="0" x2="0" y2="1"><stop offset="0.0249" stop-color="#d7180d"/><stop offset="0.0837" stop-color="#cb140c"/><stop offset="0.1347" stop-color="#f22110"/><stop offset="0.1935" stop-color="#fb4f15"/><stop offset="0.2405" stop-color="#f93b14"/><stop offset="0.2993" stop-color="#e41c0e"/><stop offset="0.3581" stop-color="#fb4715"/><stop offset="0.3895" stop-color="#b8110a"/><stop offset="0.4170" stop-color="#540503"/><stop offset="0.4444" stop-color="#540503"/><stop offset="0.4758" stop-color="#540503"/><stop offset="0.5150" stop-color="#570603"/><stop offset="0.5463" stop-color="#860a06"/><stop offset="0.5659" stop-color="#960c07"/><stop offset="0.5855" stop-color="#af1009"/><stop offset="0.6051" stop-color="#990c07"/><stop offset="0.6522" stop-color="#730805"/><stop offset="0.6914" stop-color="#790905"/><stop offset="0.7188" stop-color="#770805"/><stop offset="0.7502" stop-color="#750805"/><stop offset="0.7737" stop-color="#8e0b06"/><stop offset="0.8090" stop-color="#b2100a"/><stop offset="0.8404" stop-color="#940b07"/><stop offset="0.8600" stop-color="#810905"/><stop offset="0.8796" stop-color="#a30e08"/><stop offset="0.8952" stop-color="#be120b"/><stop offset="0.9227" stop-color="#ec1f0f"/><stop offset="0.9737" stop-color="#f83312"/></linearGradient>
<linearGradient id="g71" x1="0" y1="0" x2="0" y2="1"><stop offset="0.0249" stop-color="#980c07"/><stop offset="0.0837" stop-color="#5c0603"/><stop offset="0.1347" stop-color="#f42210"/><stop offset="0.1935" stop-color="#fc5816"/><stop offset="0.2405" stop-color="#fa3c14"/><stop offset="0.2993" stop-color="#f83312"/><stop offset="0.3581" stop-color="#f93913"/><stop offset="0.3895" stop-color="#f62d12"/><stop offset="0.4170" stop-color="#f32210"/><stop offset="0.4444" stop-color="#f32210"/><stop offset="0.4758" stop-color="#f32210"/><stop offset="0.5150" stop-color="#f62911"/><stop offset="0.5463" stop-color="#fc8319"/><stop offset="0.5659" stop-color="#faba1f"/><stop offset="0.5855" stop-color="#f7f82b"/><stop offset="0.6051" stop-color="#fc911a"/><stop offset="0.6522" stop-color="#fc5a16"/><stop offset="0.6914" stop-color="#f83513"/><stop offset="0.7188" stop-color="#f52611"/><stop offset="0.7502" stop-color="#df1b0e"/><stop offset="0.7737" stop-color="#d7180d"/><stop offset="0.8090" stop-color="#cb140c"/><stop offset="0.8404" stop-color="#c5130b"/><stop offset="0.8600" stop-color="#c1120b"/><stop offset="0.8796" stop-color="#c8130c"/><stop offset="0.8952" stop-color="#ce140c"/><stop offset="0.9227" stop-color="#d7180d"/><stop offset="0.9737" stop-color="#f93713"/></linearGradient>
<linearGradient id="g72" x1="0" y1="0" x2="0" y2="1"><stop offset="0.0249" stop-color="#d4160d"/><stop offset="0.0837" stop-color="#8d0b06"/><stop offset="0.1347" stop-color="#fc6517"/><stop offset="0.1935" stop-color="#fa4014"/><stop offset="0.2405" stop-color="#f93913"/><stop offset="0.2993" stop-color="#fb4615"/><stop offset="0.3581" stop-color="#fa3d14"/><stop offset="0.3895" stop-color="#fb4515"/><stop offset="0.4170" stop-color="#fb4d15"/><stop offset="0.4444" stop-color="#fb4d15"/><stop offset="0.4758" stop-color="#fb4c15"/><stop offset="0.5150" stop-color="#fc5b16"/><stop offset="0.5463" stop-color="#f7f92f"/><stop offset="0.5659" stop-color="#fbfd78"/><stop offset="0.5855" stop-color="#fffffa"/><stop offset="0.6051" stop-color="#f8fb38"/><stop offset="0.6522" stop-color="#f9c120"/><stop offset="0.6914" stop-color="#fc7c19"/><stop offset="0.7188" stop-color="#fc6117"/><stop offset="0.7502" stop-color="#fb4615"/><stop offset="0.7737" stop-color="#fa4014"/><stop offset="0.8090" stop-color="#f93713"/><stop offset="0.8404" stop-color="#f93a13"/><stop offset="0.8600" stop-color="#f93c14"/><stop offset="0.8796" stop-color="#f93a13"/><stop offset="0.8952" stop-color="#f93813"/><stop offset="0.9227" stop-color="#f83513"/><stop offset="0.9737" stop-color="#fc5916"/></linearGradient>
<linearGradient id="g73" x1="0" y1="0" x2="0" y2="1"><stop offset="0.0249" stop-color="#fc8219"/><stop offset="0.0837" stop-color="#fc5f16"/><stop offset="0.1347" stop-color="#fafd6b"/><stop offset="0.1935" stop-color="#d2160c"/><stop offset="0.2405" stop-color="#f73112"/><stop offset="0.2993" stop-color="#fc5716"/><stop offset="0.3581" stop-color="#fc5616"/><stop offset="0.3895" stop-color="#fb4e15"/><stop offset="0.4170" stop-color="#fb4715"/><stop offset="0.4444" stop-color="#fb4615"/><stop offset="0.4758" stop-color="#fb4515"/><stop offset="0.5150" stop-color="#fc5c16"/><stop offset="0.5463" stop-color="#f7f82a"/><stop offset="0.5659" stop-color="#fafd6b"/><stop offset="0.5855" stop-color="#fffffa"/><stop offset="0.6051" stop-color="#f7fa33"/><stop offset="0.6522" stop-color="#faba1f"/><stop offset="0.6914" stop-color="#f9c420"/><stop offset="0.7188" stop-color="#fb971b"/><stop offset="0.7502" stop-color="#fc7218"/><stop offset="0.7737" stop-color="#fc7f19"/><stop offset="0.8090" stop-color="#fb981b"/><stop offset="0.8404" stop-color="#fb9d1c"/><stop offset="0.8600" stop-color="#fba01c"/><stop offset="0.8796" stop-color="#fb9f1c"/><stop offset="0.8952" stop-color="#fb9f1c"/><stop offset="0.9227" stop-color="#fb9e1c"/><stop offset="0.9737" stop-color="#fabd1f"/></linearGradient>
<linearGradient id="g74" x1="0" y1="0" x2="0" y2="1"><stop offset="0.0249" stop-color="#fab01d"/><stop offset="0.0837" stop-color="#fc951b"/><stop offset="0.1347" stop-color="#fafd6c"/><stop offset="0.1935" stop-color="#db190d"/><stop offset="0.2405" stop-color="#fc5616"/><stop offset="0.2993" stop-color="#fc8419"/><stop offset="0.3581" stop-color="#fc7f19"/><stop offset="0.3895" stop-color="#fb5115"/><stop offset="0.4170" stop-color="#f73212"/><stop offset="0.4444" stop-color="#fb4b15"/><stop offset="0.4758" stop-color="#fc7018"/><stop offset="0.5150" stop-color="#fc5816"/><stop offset="0.5463" stop-color="#f6f625"/><stop offset="0.5659" stop-color="#fafd61"/><stop offset="0.5855" stop-color="#fffffa"/><stop offset="0.6051" stop-color="#f7fa33"/><stop offset="0.6522" stop-color="#fabf1f"/><stop offset="0.6914" stop-color="#f6f124"/><stop offset="0.7188" stop-color="#f8e024"/><stop offset="0.7502" stop-color="#f9c220"/><stop offset="0.7737" stop-color="#f7e724"/><stop offset="0.8090" stop-color="#f8fb38"/><stop offset="0.8404" stop-color="#f8fb39"/><stop offset="0.8600" stop-color="#f8fb38"/><stop offset="0.8796" stop-color="#f8fb36"/><stop offset="0.8952" stop-color="#f7fa35"/><stop offset="0.9227" stop-color="#f7fa34"/><stop offset="0.9737" stop-color="#f6f124"/></linearGradient>
<linearGradient id="g75" x1="0" y1="0" x2="0" y2="1"><stop offset="0.0249" stop-color="#fc5716"/><stop offset="0.0837" stop-color="#fc5916"/><stop offset="0.1347" stop-color="#fc6817"/><stop offset="0.1935" stop-color="#fc5416"/><stop offset="0.2405" stop-color="#f8e124"/><stop offset="0.2993" stop-color="#f7eb24"/><stop offset="0.3581" stop-color="#f9d322"/><stop offset="0.3895" stop-color="#fb5015"/><stop offset="0.4170" stop-color="#cc140c"/><stop offset="0.4444" stop-color="#fc5f16"/><stop offset="0.4758" stop-color="#f6f728"/><stop offset="0.5150" stop-color="#fb5015"/><stop offset="0.5463" stop-color="#f6f324"/><stop offset="0.5659" stop-color="#f9fd5b"/><stop offset="0.5855" stop-color="#fffffa"/><stop offset="0.6051" stop-color="#f8fb39"/><stop offset="0.6522" stop-color="#f9d022"/><stop offset="0.6914" stop-color="#f8fb37"/><stop offset="0.7188" stop-color="#f8fb38"/><stop offset="0.7502" stop-color="#f8fb3a"/><stop offset="0.7737" stop-color="#fbfd76"/><stop offset="0.8090" stop-color="#fdfec2"/><stop offset="0.8404" stop-color="#fdfec3"/><stop offset="0.8600" stop-color="#fdfeb3"/><stop offset="0.8796" stop-color="#fcfea6"/><stop offset="0.8952" stop-color="#fcfe9c"/><stop offset="0.9227" stop-color="#fcfe8b"/><stop offset="0.9737" stop-color="#f6f324"/></linearGradient>
<linearGradient id="g76" x1="0" y1="0" x2="0" y2="1"><stop offset="0.0249" stop-color="#f62b11"/><stop offset="0.0837" stop-color="#f42410"/><stop offset="0.1347" stop-color="#f52611"/><stop offset="0.1935" stop-color="#fc7018"/><stop offset="0.2405" stop-color="#f7e924"/><stop offset="0.2993" stop-color="#f8e324"/><stop offset="0.3581" stop-color="#fab91e"/><stop offset="0.3895" stop-color="#fb5015"/><stop offset="0.4170" stop-color="#de1a0e"/><stop offset="0.4444" stop-color="#fc6a17"/><stop offset="0.4758" stop-color="#f7f92f"/><stop offset="0.5150" stop-color="#fc6c17"/><stop offset="0.5463" stop-color="#f7f82c"/><stop offset="0.5659" stop-color="#fafd68"/><stop offset="0.5855" stop-color="#fffffa"/><stop offset="0.6051" stop-color="#f9fc4f"/><stop offset="0.6522" stop-color="#f7e924"/><stop offset="0.6914" stop-color="#f8fc46"/><stop offset="0.7188" stop-color="#f8fb3a"/><stop offset="0.7502" stop-color="#f7f931"/><stop offset="0.7737" stop-color="#f9fc4e"/><stop offset="0.8090" stop-color="#fafd72"/><stop offset="0.8404" stop-color="#fafd6a"/><stop offset="0.8600" stop-color="#f9fd56"/><stop offset="0.8796" stop-color="#f8fc45"/><stop offset="0.8952" stop-color="#f8fb39"/><stop offset="0.9227" stop-color="#f7f82c"/><stop offset="0.9737" stop-color="#fba71d"/></linearGradient>
<linearGradient id="g77" x1="0" y1="0" x2="0" y2="1"><stop offset="0.0249" stop-color="#cf150c"/><stop offset="0.0837" stop-color="#900b07"/><stop offset="0.1347" stop-color="#f52510"/><stop offset="0.1935" stop-color="#fc5816"/><stop offset="0.2405" stop-color="#fc6c17"/><stop offset="0.2993" stop-color="#fc6b17"/><stop offset="0.3581" stop-color="#fb5015"/><stop offset="0.3895" stop-color="#fb5115"/><stop offset="0.4170" stop-color="#fc5316"/><stop offset="0.4444" stop-color="#fc6b17"/><stop offset="0.4758" stop-color="#fc8a1a"/><stop offset="0.5150" stop-color="#f9cb21"/><stop offset="0.5463" stop-color="#f9fc4e"/><stop offset="0.5659" stop-color="#fbfe89"/><stop offset="0.5855" stop-color="#fffffa"/><stop offset="0.6051" stop-color="#fafd74"/><stop offset="0.6522" stop-color="#f7fa35"/><stop offset="0.6914" stop-color="#f8fc3f"/><stop offset="0.7188" stop-color="#f7e424"/><stop offset="0.7502" stop-color="#fc931b"/><stop offset="0.7737" stop-color="#fc8419"/><stop offset="0.8090" stop-color="#fc6c17"/><stop offset="0.8404" stop-color="#fc5f16"/><stop offset="0.8600" stop-color="#fc5516"/><stop offset="0.8796" stop-color="#fb4c15"/><stop offset="0.8952" stop-color="#fb4515"/><stop offset="0.9227" stop-color="#f93a13"/><stop offset="0.9737" stop-color="#f83613"/></linearGradient>
<linearGradient id="g78" x1="0" y1="0" x2="0" y2="1"><stop offset="0.0249" stop-color="#d2160d"/><stop offset="0.0837" stop-color="#910b07"/><stop offset="0.1347" stop-color="#f62b11"/><stop offset="0.1935" stop-color="#fb4d15"/><stop offset="0.2405" stop-color="#fa4014"/><stop offset="0.2993" stop-color="#fa4014"/><stop offset="0.3581" stop-color="#f83312"/><stop offset="0.3895" stop-color="#fc5416"/><stop offset="0.4170" stop-color="#fc7918"/><stop offset="0.4444" stop-color="#fc6617"/><stop offset="0.4758" stop-color="#fc5216"/><stop offset="0.5150" stop-color="#f8db23"/><stop offset="0.5463" stop-color="#f9fc49"/><stop offset="0.5659" stop-color="#fbfe81"/><stop offset="0.5855" stop-color="#fffff1"/><stop offset="0.6051" stop-color="#fbfe80"/><stop offset="0.6522" stop-color="#f9fc48"/><stop offset="0.6914" stop-color="#f8fc3f"/><stop offset="0.7188" stop-color="#f7e924"/><stop offset="0.7502" stop-color="#fba51c"/><stop offset="0.7737" stop-color="#fc8319"/><stop offset="0.8090" stop-color="#fc5f16"/><stop offset="0.8404" stop-color="#fc5416"/><stop offset="0.8600" stop-color="#fb4d15"/><stop offset="0.8796" stop-color="#fb4a15"/><stop offset="0.8952" stop-color="#fb4815"/><stop offset="0.9227" stop-color="#fa4114"/><stop offset="0.9737" stop-color="#fa4014"/></linearGradient>
<linearGradient id="g79" x1="0" y1="0" x2="0" y2="1"><stop offset="0.0249" stop-color="#f73212"/><stop offset="0.0837" stop-color="#f52611"/><stop offset="0.1347" stop-color="#f93813"/><stop offset="0.1935" stop-color="#fb4d15"/><stop offset="0.2405" stop-color="#f93913"/><stop offset="0.2993" stop-color="#f93913"/><stop offset="0.3581" stop-color="#f93a13"/><stop offset="0.3895" stop-color="#fc5816"/><stop offset="0.4170" stop-color="#fc7918"/><stop offset="0.4444" stop-color="#fc5c16"/><stop offset="0.4758" stop-color="#fa4014"/><stop offset="0.5150" stop-color="#fc8a1a"/><stop offset="0.5463" stop-color="#f6f624"/><stop offset="0.5659" stop-color="#f9fc50"/><stop offset="0.5855" stop-color="#feffd1"/><stop offset="0.6051" stop-color="#fafd73"/><stop offset="0.6522" stop-color="#f8fc44"/><stop offset="0.6914" stop-color="#f8fc46"/><stop offset="0.7188" stop-color="#f9fc52"/><stop offset="0.7502" stop-color="#fafd60"/><stop offset="0.7737" stop-color="#f9fc4a"/><stop offset="0.8090" stop-color="#f7f931"/><stop offset="0.8404" stop-color="#f7f92f"/><stop offset="0.8600" stop-color="#f7f82d"/><stop offset="0.8796" stop-color="#f8fb39"/><stop offset="0.8952" stop-color="#f9fc48"/><stop offset="0.9227" stop-color="#f9fd55"/><stop offset="0.9737" stop-color="#f7ec24"/></linearGradient>
<linearGradient id="g80" x1="0" y1="0" x2="0" y2="1"><stop offset="0.0249" stop-color="#fb4515"/><stop offset="0.0837" stop-color="#fb4e15"/><stop offset="0.1347" stop-color="#fa4214"/><stop offset="0.1935" stop-color="#fb5115"/><stop offset="0.2405" stop-color="#fa3f14"/><stop offset="0.2993" stop-color="#fa3e14"/><stop offset="0.3581" stop-color="#fa3d14"/><stop offset="0.3895" stop-color="#fb4815"/><stop offset="0.4170" stop-color="#fb5015"/><stop offset="0.4444" stop-color="#fa4414"/><stop offset="0.4758" stop-color="#f93813"/><stop offset="0.5150" stop-color="#faac1d"/><stop offset="0.5463" stop-color="#f7f92e"/><stop offset="0.5659" stop-color="#f9fd59"/><stop offset="0.5855" stop-color="#fdfec4"/><stop offset="0.6051" stop-color="#fafd6a"/><stop offset="0.6522" stop-color="#f8fc3d"/><stop offset="0.6914" stop-color="#f8fb37"/><stop offset="0.7188" stop-color="#fafd71"/><stop offset="0.7502" stop-color="#fdfebc"/><stop offset="0.7737" stop-color="#fdfea8"/><stop offset="0.8090" stop-color="#fcfe8b"/><stop offset="0.8404" stop-color="#fcfe92"/><stop offset="0.8600" stop-color="#fcfe95"/><stop offset="0.8796" stop-color="#fdfebb"/><stop offset="0.8952" stop-color="#feffd9"/><stop offset="0.9227" stop-color="#fffff8"/><stop offset="0.9737" stop-color="#fafd64"/></linearGradient>
<linearGradient id="g81" x1="0" y1="0" x2="0" y2="1"><stop offset="0.0249" stop-color="#fb4e15"/><stop offset="0.0837" stop-color="#fc6517"/><stop offset="0.1347" stop-color="#fb4f15"/><stop offset="0.1935" stop-color="#fc5a16"/><stop offset="0.2405" stop-color="#fc5516"/><stop offset="0.2993" stop-color="#fc5316"/><stop offset="0.3581" stop-color="#fa3c14"/><stop offset="0.3895" stop-color="#f52711"/><stop offset="0.4170" stop-color="#d2160d"/><stop offset="0.4444" stop-color="#f32210"/><stop offset="0.4758" stop-color="#f93913"/><stop offset="0.5150" stop-color="#f9fc4d"/><stop offset="0.5463" stop-color="#fbfe86"/><stop offset="0.5659" stop-color="#fcfe9d"/><stop offset="0.5855" stop-color="#feffcc"/><stop offset="0.6051" stop-color="#fafd65"/><stop offset="0.6522" stop-color="#f7fa36"/><stop offset="0.6914" stop-color="#f6f124"/><stop offset="0.7188" stop-color="#f9fd53"/><stop offset="0.7502" stop-color="#fdfead"/><stop offset="0.7737" stop-color="#fcfe8e"/><stop offset="0.8090" stop-color="#fafd64"/><stop offset="0.8404" stop-color="#fafd6e"/><stop offset="0.8600" stop-color="#fbfd75"/><stop offset="0.8796" stop-color="#fcfe90"/><stop offset="0.8952" stop-color="#fdfea8"/><stop offset="0.9227" stop-color="#feffcc"/><stop offset="0.9737" stop-color="#f7fa34"/></linearGradient>
<linearGradient id="g82" x1="0" y1="0" x2="0" y2="1"><stop offset="0.0249" stop-color="#fc5616"/><stop offset="0.0837" stop-color="#fc6c17"/><stop offset="0.1347" stop-color="#fb5115"/><stop offset="0.1935" stop-color="#fc7818"/><stop offset="0.2405" stop-color="#fc7c19"/><stop offset="0.2993" stop-color="#fc7e19"/><stop offset="0.3581" stop-color="#fa3e14"/><stop offset="0.3895" stop-color="#f32210"/><stop offset="0.4170" stop-color="#d9180d"/><stop offset="0.4444" stop-color="#f62a11"/><stop offset="0.4758" stop-color="#fa3e14"/><stop offset="0.5150" stop-color="#fafd6e"/><stop offset="0.5463" stop-color="#fcfe9f"/><stop offset="0.5659" stop-color="#fdfeb0"/><stop offset="0.5855" stop-color="#feffce"/><stop offset="0.6051" stop-color="#f8fb38"/><stop offset="0.6522" stop-color="#f8df24"/><stop offset="0.6914" stop-color="#fabc1f"/><stop offset="0.7188" stop-color="#f6f72a"/><stop offset="0.7502" stop-color="#fbfe85"/><stop offset="0.7737" stop-color="#f9fd59"/><stop offset="0.8090" stop-color="#f6f729"/><stop offset="0.8404" stop-color="#f6f224"/><stop offset="0.8600" stop-color="#f7ed24"/><stop offset="0.8796" stop-color="#f7eb24"/><stop offset="0.8952" stop-color="#f7e924"/><stop offset="0.9227" stop-color="#f7e624"/><stop offset="0.9737" stop-color="#fc881a"/></linearGradient>
<linearGradient id="g83" x1="0" y1="0" x2="0" y2="1"><stop offset="0.0249" stop-color="#fc5e16"/><stop offset="0.0837" stop-color="#fc6317"/><stop offset="0.1347" stop-color="#fb4915"/><stop offset="0.1935" stop-color="#f9c320"/><stop offset="0.2405" stop-color="#f9c921"/><stop offset="0.2993" stop-color="#f8dd24"/><stop offset="0.3581" stop-color="#fa4314"/><stop offset="0.3895" stop-color="#f93913"/><stop offset="0.4170" stop-color="#fc5e16"/><stop offset="0.4444" stop-color="#fc5e16"/><stop offset="0.4758" stop-color="#fb4a15"/><stop offset="0.5150" stop-color="#f6f524"/><stop offset="0.5463" stop-color="#fafd6a"/><stop offset="0.5659" stop-color="#fcfe8b"/><stop offset="0.5855" stop-color="#feffcc"/><stop offset="0.6051" stop-color="#f8d423"/><stop offset="0.6522" stop-color="#fc7018"/><stop offset="0.6914" stop-color="#fc6d17"/><stop offset="0.7188" stop-color="#f9c520"/><stop offset="0.7502" stop-color="#f8fc47"/><stop offset="0.7737" stop-color="#f6f124"/><stop offset="0.8090" stop-color="#fba81d"/><stop offset="0.8404" stop-color="#fc7318"/><stop offset="0.8600" stop-color="#fc5b16"/><stop offset="0.8796" stop-color="#fa3e14"/><stop offset="0.8952" stop-color="#f62a11"/><stop offset="0.9227" stop-color="#c2120b"/><stop offset="0.9737" stop-color="#bc120b"/></linearGradient>
<linearGradient id="g84" x1="0" y1="0" x2="0" y2="1"><stop offset="0.0249" stop-color="#fc5216"/><stop offset="0.0837" stop-color="#fb4f15"/><stop offset="0.1347" stop-color="#fa3f14"/><stop offset="0.1935" stop-color="#f7ea24"/><stop offset="0.2405" stop-color="#f7e824"/><stop offset="0.2993" stop-color="#f8fc3c"/><stop offset="0.3581" stop-color="#fb4715"/><stop offset="0.3895" stop-color="#fb4f15"/><stop offset="0.4170" stop-color="#f9c921"/><stop offset="0.4444" stop-color="#fc8319"/><stop offset="0.4758" stop-color="#fc7118"/><stop offset="0.5150" stop-color="#faba1f"/><stop offset="0.5463" stop-color="#f6f224"/><stop offset="0.5659" stop-color="#f7f92e"/><stop offset="0.5855" stop-color="#f9fd55"/><stop offset="0.6051" stop-color="#fc8a1a"/><stop offset="0.6522" stop-color="#fb4a15"/><stop offset="0.6914" stop-color="#fb4815"/><stop offset="0.7188" stop-color="#fb991b"/><stop offset="0.7502" stop-color="#f8fb39"/><stop offset="0.7737" stop-color="#f8e324"/><stop offset="0.8090" stop-color="#fc8319"/><stop offset="0.8404" stop-color="#fc5316"/><stop offset="0.8600" stop-color="#f93b14"/><stop offset="0.8796" stop-color="#eb1f0f"/><stop offset="0.8952" stop-color="#c2120b"/><stop offset="0.9227" stop-color="#770805"/><stop offset="0.9737" stop-color="#be120b"/></linearGradient>
<linearGradient id="g85" x1="0" y1="0" x2="0" y2="1"><stop offset="0.0249" stop-color="#f93913"/><stop offset="0.0837" stop-color="#f83713"/><stop offset="0.1347" stop-color="#f83413"/><stop offset="0.1935" stop-color="#f6f224"/><stop offset="0.2405" stop-color="#f8e424"/><stop offset="0.2993" stop-color="#fbfe81"/><stop offset="0.3581" stop-color="#fb4b15"/><stop offset="0.3895" stop-color="#fc6a17"/><stop offset="0.4170" stop-color="#f8fc42"/><stop offset="0.4444" stop-color="#fc8b1a"/><stop offset="0.4758" stop-color="#f8d623"/><stop offset="0.5150" stop-color="#fc8019"/><stop offset="0.5463" stop-color="#fc8019"/><stop offset="0.5659" stop-color="#fc7f19"/><stop offset="0.5855" stop-color="#fc8119"/><stop offset="0.6051" stop-color="#fc6017"/><stop offset="0.6522" stop-color="#fb4615"/><stop offset="0.6914" stop-color="#f83613"/><stop offset="0.7188" stop-color="#fc901a"/><stop offset="0.7502" stop-color="#f9fd54"/><stop offset="0.7737" stop-color="#f6f124"/><stop offset="0.8090" stop-color="#fc941b"/><stop offset="0.8404" stop-color="#fc6c17"/><stop offset="0.8600" stop-color="#fc5716"/><stop offset="0.8796" stop-color="#fb4915"/><stop offset="0.8952" stop-color="#fa3e14"/><stop offset="0.9227" stop-color="#f72e12"/><stop offset="0.9737" stop-color="#fc8b1a"/></linearGradient>
<linearGradient id="g86" x1="0" y1="0" x2="0" y2="1"><stop offset="0.0249" stop-color="#f73012"/><stop offset="0.0837" stop-color="#f83413"/><stop offset="0.1347" stop-color="#f93813"/><stop offset="0.1935" stop-color="#f6f729"/><stop offset="0.2405" stop-color="#f8d923"/><stop offset="0.2993" stop-color="#fdfeb7"/><stop offset="0.3581" stop-color="#f93a13"/><stop offset="0.3895" stop-color="#fc7718"/><stop offset="0.4170" stop-color="#fcfe92"/><stop offset="0.4444" stop-color="#fc901a"/><stop offset="0.4758" stop-color="#f8d423"/><stop offset="0.5150" stop-color="#faaf1d"/><stop offset="0.5463" stop-color="#fc6f18"/><stop offset="0.5659" stop-color="#fc5916"/><stop offset="0.5855" stop-color="#fa4414"/><stop offset="0.6051" stop-color="#fb4915"/><stop offset="0.6522" stop-color="#fa3f14"/><stop offset="0.6914" stop-color="#f62e12"/><stop offset="0.7188" stop-color="#fb971b"/><stop offset="0.7502" stop-color="#fbfd7c"/><stop offset="0.7737" stop-color="#f6f726"/><stop offset="0.8090" stop-color="#fc8119"/><stop offset="0.8404" stop-color="#fc6317"/><stop offset="0.8600" stop-color="#fc5216"/><stop offset="0.8796" stop-color="#fb5015"/><stop offset="0.8952" stop-color="#fb4f15"/><stop offset="0.9227" stop-color="#fb4d15"/><stop offset="0.9737" stop-color="#f7f82b"/></linearGradient>
<linearGradient id="g87" x1="0" y1="0" x2="0" y2="1"><stop offset="0.0249" stop-color="#f83613"/><stop offset="0.0837" stop-color="#fb4615"/><stop offset="0.1347" stop-color="#fb4e15"/><stop offset="0.1935" stop-color="#f7fa33"/><stop offset="0.2405" stop-color="#f9c220"/><stop offset="0.2993" stop-color="#feffdb"/><stop offset="0.3581" stop-color="#d7180d"/><stop offset="0.3895" stop-color="#fc7318"/><stop offset="0.4170" stop-color="#fdfec0"/><stop offset="0.4444" stop-color="#fc8d1a"/><stop offset="0.4758" stop-color="#fc6d17"/><stop offset="0.5150" stop-color="#fafd63"/><stop offset="0.5463" stop-color="#fab01d"/><stop offset="0.5659" stop-color="#fc6e17"/><stop offset="0.5855" stop-color="#fa4114"/><stop offset="0.6051" stop-color="#fa3f14"/><stop offset="0.6522" stop-color="#f83513"/><stop offset="0.6914" stop-color="#f72f12"/><stop offset="0.7188" stop-color="#faaf1d"/><stop offset="0.7502" stop-color="#fdfeb3"/><stop offset="0.7737" stop-color="#f6f726"/><stop offset="0.8090" stop-color="#fc5616"/><stop offset="0.8404" stop-color="#fa3d14"/><stop offset="0.8600" stop-color="#f72f12"/><stop offset="0.8796" stop-color="#f83312"/><stop offset="0.8952" stop-color="#f83613"/><stop offset="0.9227" stop-color="#f93b14"/><stop offset="0.9737" stop-color="#f7f930"/></linearGradient>
<linearGradient id="g88" x1="0" y1="0" x2="0" y2="1"><stop offset="0.0249" stop-color="#f62a11"/><stop offset="0.0837" stop-color="#f93b14"/><stop offset="0.1347" stop-color="#f73012"/><stop offset="0.1935" stop-color="#f9fc4f"/><stop offset="0.2405" stop-color="#fbaa1d"/><stop offset="0.2993" stop-color="#fdfeac"/><stop offset="0.3581" stop-color="#cf150c"/><stop offset="0.3895" stop-color="#fc7118"/><stop offset="0.4170" stop-color="#feffd3"/><stop offset="0.4444" stop-color="#fc8c1a"/><stop offset="0.4758" stop-color="#fb4c15"/><stop offset="0.5150" stop-color="#fdfec3"/><stop offset="0.5463" stop-color="#fba31c"/><stop offset="0.5659" stop-color="#fb4c15"/><stop offset="0.5855" stop-color="#df1b0e"/><stop offset="0.6051" stop-color="#e21b0e"/><stop offset="0.6522" stop-color="#f62c11"/><stop offset="0.6914" stop-color="#f83312"/><stop offset="0.7188" stop-color="#f9c320"/><stop offset="0.7502" stop-color="#feffdc"/><stop offset="0.7737" stop-color="#f6f424"/><stop offset="0.8090" stop-color="#f83713"/><stop offset="0.8404" stop-color="#ef200f"/><stop offset="0.8600" stop-color="#d8180d"/><stop offset="0.8796" stop-color="#e51d0e"/><stop offset="0.8952" stop-color="#f02010"/><stop offset="0.9227" stop-color="#f62c11"/><stop offset="0.9737" stop-color="#f7f024"/></linearGradient>
<linearGradient id="g89" x1="0" y1="0" x2="0" y2="1"><stop offset="0.0249" stop-color="#d2160d"/><stop offset="0.0837" stop-color="#d5170d"/><stop offset="0.1347" stop-color="#7a0905"/><stop offset="0.1935" stop-color="#fbfe83"/><stop offset="0.2405" stop-color="#fc921b"/><stop offset="0.2993" stop-color="#f8fb38"/><stop offset="0.3581" stop-color="#f62911"/><stop offset="0.3895" stop-color="#fc7118"/><stop offset="0.4170" stop-color="#feffcc"/><stop offset="0.4444" stop-color="#fc8c1a"/><stop offset="0.4758" stop-color="#fb4c15"/><stop offset="0.5150" stop-color="#fdfec3"/><stop offset="0.5463" stop-color="#fc5a16"/><stop offset="0.5659" stop-color="#c0120b"/><stop offset="0.5855" stop-color="#4c0502"/><stop offset="0.6051" stop-color="#660704"/><stop offset="0.6522" stop-color="#f42410"/><stop offset="0.6914" stop-color="#f93713"/><stop offset="0.7188" stop-color="#f9d222"/><stop offset="0.7502" stop-color="#fffff5"/><stop offset="0.7737" stop-color="#f7ec24"/><stop offset="0.8090" stop-color="#e21b0e"/><stop offset="0.8404" stop-color="#c7130b"/><stop offset="0.8600" stop-color="#b4100a"/><stop offset="0.8796" stop-color="#c7130b"/><stop offset="0.8952" stop-color="#d5170d"/><stop offset="0.9227" stop-color="#ee200f"/><stop offset="0.9737" stop-color="#fab71e"/></linearGradient>
<linearGradient id="g90" x1="0" y1="0" x2="0" y2="1"><stop offset="0.0249" stop-color="#d6170d"/><stop offset="0.0837" stop-color="#d7180d"/><stop offset="0.1347" stop-color="#6f0804"/><stop offset="0.1935" stop-color="#fdfeb7"/><stop offset="0.2405" stop-color="#fc8c1a"/><stop offset="0.2993" stop-color="#f7ec24"/><stop offset="0.3581" stop-color="#f93813"/><stop offset="0.3895" stop-color="#fc7318"/><stop offset="0.4170" stop-color="#feffd1"/><stop offset="0.4444" stop-color="#fc8c1a"/><stop offset="0.4758" stop-color="#fc6c17"/><stop offset="0.5150" stop-color="#fafd62"/><stop offset="0.5463" stop-color="#fb4815"/><stop offset="0.5659" stop-color="#b9110a"/><stop offset="0.5855" stop-color="#5b0603"/><stop offset="0.6051" stop-color="#810905"/><stop offset="0.6522" stop-color="#fa4314"/><stop offset="0.6914" stop-color="#fc5716"/><stop offset="0.7188" stop-color="#f7ef24"/><stop offset="0.7502" stop-color="#fffffa"/><stop offset="0.7737" stop-color="#f8e024"/><stop offset="0.8090" stop-color="#ac0f09"/><stop offset="0.8404" stop-color="#a20e08"/><stop offset="0.8600" stop-color="#9b0d08"/><stop offset="0.8796" stop-color="#b5100a"/><stop offset="0.8952" stop-color="#ca140c"/><stop offset="0.9227" stop-color="#ec1f0f"/><stop offset="0.9737" stop-color="#fc6c17"/></linearGradient>
<linearGradient id="g91" x1="0" y1="0" x2="0" y2="1"><stop offset="0.0249" stop-color="#f83312"/><stop offset="0.0837" stop-color="#fa3e14"/><stop offset="0.1347" stop-color="#ea1e0f"/><stop offset="0.1935" stop-color="#ffffea"/><stop offset="0.2405" stop-color="#fb991b"/><stop offset="0.2993" stop-color="#f7ec24"/><stop offset="0.3581" stop-color="#f93813"/><stop offset="0.3895" stop-color="#fc7718"/><stop offset="0.4170" stop-color="#feffe4"/><stop offset="0.4444" stop-color="#fc8c1a"/><stop offset="0.4758" stop-color="#f9d022"/><stop offset="0.5150" stop-color="#fbaa1d"/><stop offset="0.5463" stop-color="#fc5c16"/><stop offset="0.5659" stop-color="#fa4014"/><stop offset="0.5855" stop-color="#f73012"/><stop offset="0.6051" stop-color="#fa4414"/><stop offset="0.6522" stop-color="#fba61c"/><stop offset="0.6914" stop-color="#fab31e"/><stop offset="0.7188" stop-color="#f9fc4a"/><stop offset="0.7502" stop-color="#fffffa"/><stop offset="0.7737" stop-color="#f9c721"/><stop offset="0.8090" stop-color="#730805"/><stop offset="0.8404" stop-color="#840906"/><stop offset="0.8600" stop-color="#8f0b06"/><stop offset="0.8796" stop-color="#b2100a"/><stop offset="0.8952" stop-color="#ce140c"/><stop offset="0.9227" stop-color="#f52711"/><stop offset="0.9737" stop-color="#f83513"/></linearGradient>
<linearGradient id="g92" x1="0" y1="0" x2="0" y2="1"><stop offset="0.0249" stop-color="#f62911"/><stop offset="0.0837" stop-color="#fa4014"/><stop offset="0.1347" stop-color="#fa3c14"/><stop offset="0.1935" stop-color="#fcfe93"/><stop offset="0.2405" stop-color="#fc7e19"/><stop offset="0.2993" stop-color="#fabd1f"/><stop offset="0.3581" stop-color="#f72f12"/><stop offset="0.3895" stop-color="#fc6b17"/><stop offset="0.4170" stop-color="#fcfea2"/><stop offset="0.4444" stop-color="#fc8d1a"/><stop offset="0.4758" stop-color="#f8da23"/><stop offset="0.5150" stop-color="#fc8f1a"/><stop offset="0.5463" stop-color="#fc941b"/><stop offset="0.5659" stop-color="#fc961b"/><stop offset="0.5855" stop-color="#fb981b"/><stop offset="0.6051" stop-color="#fabe1f"/><stop offset="0.6522" stop-color="#f7f92e"/><stop offset="0.6914" stop-color="#f6f726"/><stop offset="0.7188" stop-color="#fbfd77"/><stop offset="0.7502" stop-color="#fffff1"/><stop offset="0.7737" stop-color="#f8dc24"/><stop offset="0.8090" stop-color="#b01009"/><stop offset="0.8404" stop-color="#c9130c"/><stop offset="0.8600" stop-color="#d6170d"/><stop offset="0.8796" stop-color="#ed1f0f"/><stop offset="0.8952" stop-color="#f62a11"/><stop offset="0.9227" stop-color="#fa3d14"/><stop offset="0.9737" stop-color="#f83613"/></linearGradient>
<linearGradient id="g93" x1="0" y1="0" x2="0" y2="1"><stop offset="0.0249" stop-color="#a40e08"/><stop offset="0.0837" stop-color="#de1a0e"/><stop offset="0.1347" stop-color="#f83613"/><stop offset="0.1935" stop-color="#f9c520"/><stop offset="0.2405" stop-color="#fb4f15"/><stop offset="0.2993" stop-color="#fc6017"/><stop offset="0.3581" stop-color="#e71d0f"/><stop offset="0.3895" stop-color="#fb5015"/><stop offset="0.4170" stop-color="#f6f729"/><stop offset="0.4444" stop-color="#fc8f1a"/><stop offset="0.4758" stop-color="#fc8019"/><stop offset="0.5150" stop-color="#f6f424"/><stop offset="0.5463" stop-color="#f7f92f"/><stop offset="0.5659" stop-color="#f7fa35"/><stop offset="0.5855" stop-color="#f8fc3b"/><stop offset="0.6051" stop-color="#f9fc4d"/><stop offset="0.6522" stop-color="#fbfd7a"/><stop offset="0.6914" stop-color="#f9fc4e"/><stop offset="0.7188" stop-color="#fbfe88"/><stop offset="0.7502" stop-color="#feffd1"/><stop offset="0.7737" stop-color="#f7fa34"/><stop offset="0.8090" stop-color="#fc6317"/><stop offset="0.8404" stop-color="#fc6a17"/><stop offset="0.8600" stop-color="#fc6e17"/><stop offset="0.8796" stop-color="#fc6b17"/><stop offset="0.8952" stop-color="#fc6817"/><stop offset="0.9227" stop-color="#fc6317"/><stop offset="0.9737" stop-color="#fc6f18"/></linearGradient>
<linearGradient id="g94" x1="0" y1="0" x2="0" y2="1"><stop offset="0.0249" stop-color="#7c0905"/><stop offset="0.0837" stop-color="#ca140c"/><stop offset="0.1347" stop-color="#f83312"/><stop offset="0.1935" stop-color="#fc7418"/><stop offset="0.2405" stop-color="#fa3e14"/><stop offset="0.2993" stop-color="#f72e12"/><stop offset="0.3581" stop-color="#ad0f09"/><stop offset="0.3895" stop-color="#f93813"/><stop offset="0.4170" stop-color="#faae1d"/><stop offset="0.4444" stop-color="#fc871a"/><stop offset="0.4758" stop-color="#fc6b17"/><stop offset="0.5150" stop-color="#f8e224"/><stop offset="0.5463" stop-color="#f6f124"/><stop offset="0.5659" stop-color="#f6f726"/><stop offset="0.5855" stop-color="#f7f82e"/><stop offset="0.6051" stop-color="#f7fa33"/><stop offset="0.6522" stop-color="#f8fc41"/><stop offset="0.6914" stop-color="#f6f72a"/><stop offset="0.7188" stop-color="#fafd66"/><stop offset="0.7502" stop-color="#fdfec2"/><stop offset="0.7737" stop-color="#f9fd54"/><stop offset="0.8090" stop-color="#fab61e"/><stop offset="0.8404" stop-color="#fba71d"/><stop offset="0.8600" stop-color="#fb9e1c"/><stop offset="0.8796" stop-color="#fc8f1a"/><stop offset="0.8952" stop-color="#fc871a"/><stop offset="0.9227" stop-color="#fc7918"/><stop offset="0.9737" stop-color="#fbaa1d"/></linearGradient>
<linearGradient id="g95" x1="0" y1="0" x2="0" y2="1"><stop offset="0.0249" stop-color="#890a06"/><stop offset="0.0837" stop-color="#e81e0f"/><stop offset="0.1347" stop-color="#f83312"/><stop offset="0.1935" stop-color="#fc7518"/><stop offset="0.2405" stop-color="#fa4414"/><stop offset="0.2993" stop-color="#c1120b"/><stop offset="0.3581" stop-color="#570603"/><stop offset="0.3895" stop-color="#e91e0f"/><stop offset="0.4170" stop-color="#fc7118"/><stop offset="0.4444" stop-color="#fc7818"/><stop offset="0.4758" stop-color="#fc7e19"/><stop offset="0.5150" stop-color="#fc5516"/><stop offset="0.5463" stop-color="#fc5e16"/><stop offset="0.5659" stop-color="#fc6317"/><stop offset="0.5855" stop-color="#fc6717"/><stop offset="0.6051" stop-color="#fc6e17"/><stop offset="0.6522" stop-color="#fc8119"/><stop offset="0.6914" stop-color="#fc8119"/><stop offset="0.7188" stop-color="#f6f625"/><stop offset="0.7502" stop-color="#fdfec6"/><stop offset="0.7737" stop-color="#f9fd54"/><stop offset="0.8090" stop-color="#fab21e"/><stop offset="0.8404" stop-color="#fc8219"/><stop offset="0.8600" stop-color="#fc6e17"/><stop offset="0.8796" stop-color="#fc7218"/><stop offset="0.8952" stop-color="#fc7518"/><stop offset="0.9227" stop-color="#fc7b18"/><stop offset="0.9737" stop-color="#f9cd21"/></linearGradient>
<linearGradient id="g96" x1="0" y1="0" x2="0" y2="1"><stop offset="0.0249" stop-color="#850a06"/><stop offset="0.0837" stop-color="#eb1f0f"/><stop offset="0.1347" stop-color="#f83413"/><stop offset="0.1935" stop-color="#fc6917"/><stop offset="0.2405" stop-color="#fa4414"/><stop offset="0.2993" stop-color="#980c07"/><stop offset="0.3581" stop-color="#3d0302"/><stop offset="0.3895" stop-color="#eb1f0f"/><stop offset="0.4170" stop-color="#fc7718"/><stop offset="0.4444" stop-color="#fc8a1a"/><stop offset="0.4758" stop-color="#fba61c"/><stop offset="0.5150" stop-color="#fa4014"/><stop offset="0.5463" stop-color="#fb5115"/><stop offset="0.5659" stop-color="#fc5a16"/><stop offset="0.5855" stop-color="#fc6417"/><stop offset="0.6051" stop-color="#fc6a17"/><stop offset="0.6522" stop-color="#fc7918"/><stop offset="0.6914" stop-color="#fc7218"/><stop offset="0.7188" stop-color="#f6f124"/><stop offset="0.7502" stop-color="#feffca"/><stop offset="0.7737" stop-color="#fafd60"/><stop offset="0.8090" stop-color="#f9c921"/><stop offset="0.8404" stop-color="#fb9e1c"/><stop offset="0.8600" stop-color="#fc871a"/><stop offset="0.8796" stop-color="#fc921b"/><stop offset="0.8952" stop-color="#fb9e1c"/><stop offset="0.9227" stop-color="#fab21e"/><stop offset="0.9737" stop-color="#f7ec24"/></linearGradient>
<linearGradient id="g97" x1="0" y1="0" x2="0" y2="1"><stop offset="0.0249" stop-color="#720805"/><stop offset="0.0837" stop-color="#d5170d"/><stop offset="0.1347" stop-color="#f83713"/><stop offset="0.1935" stop-color="#fb5115"/><stop offset="0.2405" stop-color="#fa3f14"/><stop offset="0.2993" stop-color="#8f0b06"/><stop offset="0.3581" stop-color="#5d0603"/><stop offset="0.3895" stop-color="#f93b14"/><stop offset="0.4170" stop-color="#f9c921"/><stop offset="0.4444" stop-color="#f8d623"/><stop offset="0.4758" stop-color="#f8e124"/><stop offset="0.5150" stop-color="#fc7218"/><stop offset="0.5463" stop-color="#fab51e"/><stop offset="0.5659" stop-color="#f8dd24"/><stop offset="0.5855" stop-color="#f6f524"/><stop offset="0.6051" stop-color="#f6f625"/><stop offset="0.6522" stop-color="#f6f72a"/><stop offset="0.6914" stop-color="#f9cb21"/><stop offset="0.7188" stop-color="#f8fc42"/><stop offset="0.7502" stop-color="#feffce"/><stop offset="0.7737" stop-color="#fbfd78"/><stop offset="0.8090" stop-color="#f7ef24"/><stop offset="0.8404" stop-color="#f6f624"/><stop offset="0.8600" stop-color="#f6f729"/><stop offset="0.8796" stop-color="#f7f92e"/><stop offset="0.8952" stop-color="#f7fa33"/><stop offset="0.9227" stop-color="#f8fc3b"/><stop offset="0.9737" stop-color="#f7fa35"/></linearGradient>
<linearGradient id="g98" x1="0" y1="0" x2="0" y2="1"><stop offset="0.0249" stop-color="#5e0603"/><stop offset="0.0837" stop-color="#cc140c"/><stop offset="0.1347" stop-color="#f62c11"/><stop offset="0.1935" stop-color="#f93813"/><stop offset="0.2405" stop-color="#ec1f0f"/><stop offset="0.2993" stop-color="#800905"/><stop offset="0.3581" stop-color="#6c0704"/><stop offset="0.3895" stop-color="#fb4615"/><stop offset="0.4170" stop-color="#f7e524"/><stop offset="0.4444" stop-color="#f8dc24"/><stop offset="0.4758" stop-color="#f9cd21"/><stop offset="0.5150" stop-color="#fba71d"/><stop offset="0.5463" stop-color="#f7e924"/><stop offset="0.5659" stop-color="#f7f82c"/><stop offset="0.5855" stop-color="#f8fc47"/><stop offset="0.6051" stop-color="#f8fc43"/><stop offset="0.6522" stop-color="#f8fc3a"/><stop offset="0.6914" stop-color="#f8d923"/><stop offset="0.7188" stop-color="#f8fc44"/><stop offset="0.7502" stop-color="#fdfebf"/><stop offset="0.7737" stop-color="#fbfd7c"/><stop offset="0.8090" stop-color="#f7f82b"/><stop offset="0.8404" stop-color="#f8fc3e"/><stop offset="0.8600" stop-color="#f9fc52"/><stop offset="0.8796" stop-color="#fafd69"/><stop offset="0.8952" stop-color="#fbfd7b"/><stop offset="0.9227" stop-color="#fcfe9b"/><stop offset="0.9737" stop-color="#f9fc4a"/></linearGradient>
<linearGradient id="g99" x1="0" y1="0" x2="0" y2="1"><stop offset="0.0249" stop-color="#4b0402"/><stop offset="0.0837" stop-color="#d1150c"/><stop offset="0.1347" stop-color="#d9180d"/><stop offset="0.1935" stop-color="#df1b0e"/><stop offset="0.2405" stop-color="#810905"/><stop offset="0.2993" stop-color="#6d0704"/><stop offset="0.3581" stop-color="#690704"/><stop offset="0.3895" stop-color="#fa3e14"/><stop offset="0.4170" stop-color="#f9cf22"/><stop offset="0.4444" stop-color="#fb9b1b"/><stop offset="0.4758" stop-color="#fc6e17"/><stop offset="0.5150" stop-color="#f9d022"/><stop offset="0.5463" stop-color="#f8de24"/><stop offset="0.5659" stop-color="#f8e224"/><stop offset="0.5855" stop-color="#f7e624"/><stop offset="0.6051" stop-color="#f8e024"/><stop offset="0.6522" stop-color="#f9c520"/><stop offset="0.6914" stop-color="#fc911b"/><stop offset="0.7188" stop-color="#f6f524"/><stop offset="0.7502" stop-color="#fcfe9f"/><stop offset="0.7737" stop-color="#fafd6a"/><stop offset="0.8090" stop-color="#f7f82b"/><stop offset="0.8404" stop-color="#f7f931"/><stop offset="0.8600" stop-color="#f7fa35"/><stop offset="0.8796" stop-color="#fafd63"/><stop offset="0.8952" stop-color="#fcfe8c"/><stop offset="0.9227" stop-color="#feffdc"/><stop offset="0.9737" stop-color="#f9fc49"/></linearGradient>
<linearGradient id="g100" x1="0" y1="0" x2="0" y2="1"><stop offset="0.0249" stop-color="#430402"/><stop offset="0.0837" stop-color="#c8130c"/><stop offset="0.1347" stop-color="#c7130b"/><stop offset="0.1935" stop-color="#bc120b"/><stop offset="0.2405" stop-color="#5b0603"/><stop offset="0.2993" stop-color="#640704"/><stop offset="0.3581" stop-color="#680704"/><stop offset="0.3895" stop-color="#f83312"/><stop offset="0.4170" stop-color="#fb9b1b"/><stop offset="0.4444" stop-color="#fc7018"/><stop offset="0.4758" stop-color="#fb4c15"/><stop offset="0.5150" stop-color="#f7e824"/><stop offset="0.5463" stop-color="#f7e424"/><stop offset="0.5659" stop-color="#f8e324"/><stop offset="0.5855" stop-color="#f8e124"/><stop offset="0.6051" stop-color="#f8d823"/><stop offset="0.6522" stop-color="#fabe1f"/><stop offset="0.6914" stop-color="#fb991b"/><stop offset="0.7188" stop-color="#f6f424"/><stop offset="0.7502" stop-color="#fcfe91"/><stop offset="0.7737" stop-color="#f9fd57"/><stop offset="0.8090" stop-color="#f7ee24"/><stop offset="0.8404" stop-color="#f7e924"/><stop offset="0.8600" stop-color="#f7e724"/><stop offset="0.8796" stop-color="#f7fa33"/><stop offset="0.8952" stop-color="#f9fd57"/><stop offset="0.9227" stop-color="#fdfea7"/><stop offset="0.9737" stop-color="#f7fa34"/></linearGradient>
<linearGradient id="g101" x1="0" y1="0" x2="0" y2="1"><stop offset="0.0249" stop-color="#450402"/><stop offset="0.0837" stop-color="#b2100a"/><stop offset="0.1347" stop-color="#cc140c"/><stop offset="0.1935" stop-color="#ae0f09"/><stop offset="0.2405" stop-color="#7e0905"/><stop offset="0.2993" stop-color="#670704"/><stop offset="0.3581" stop-color="#680704"/><stop offset="0.3895" stop-color="#ed1f0f"/><stop offset="0.4170" stop-color="#fc6517"/><stop offset="0.4444" stop-color="#fc5516"/><stop offset="0.4758" stop-color="#fb4515"/><stop offset="0.5150" stop-color="#f6f424"/><stop offset="0.5463" stop-color="#f6f72a"/><stop offset="0.5659" stop-color="#f7f82e"/><stop offset="0.5855" stop-color="#f7f932"/><stop offset="0.6051" stop-color="#f7f930"/><stop offset="0.6522" stop-color="#f7f82d"/><stop offset="0.6914" stop-color="#f7e824"/><stop offset="0.7188" stop-color="#f8fc3f"/><stop offset="0.7502" stop-color="#fcfe94"/><stop offset="0.7737" stop-color="#f8fc41"/><stop offset="0.8090" stop-color="#f9c420"/><stop offset="0.8404" stop-color="#faae1d"/><stop offset="0.8600" stop-color="#fba01c"/><stop offset="0.8796" stop-color="#f9c020"/><stop offset="0.8952" stop-color="#f8d923"/><stop offset="0.9227" stop-color="#f6f524"/><stop offset="0.9737" stop-color="#f7e624"/></linearGradient>
<linearGradient id="g102" x1="0" y1="0" x2="0" y2="1"><stop offset="0.0249" stop-color="#460402"/><stop offset="0.0837" stop-color="#a70e09"/><stop offset="0.1347" stop-color="#ce140c"/><stop offset="0.1935" stop-color="#a70e09"/><stop offset="0.2405" stop-color="#8f0b06"/><stop offset="0.2993" stop-color="#680704"/><stop offset="0.3581" stop-color="#680704"/><stop offset="0.3895" stop-color="#dd1a0e"/><stop offset="0.4170" stop-color="#fb4f15"/><stop offset="0.4444" stop-color="#fb4915"/><stop offset="0.4758" stop-color="#fa4114"/><stop offset="0.5150" stop-color="#f6f728"/><stop offset="0.5463" stop-color="#f7fa35"/><stop offset="0.5659" stop-color="#f8fc3d"/><stop offset="0.5855" stop-color="#f9fc4a"/><stop offset="0.6051" stop-color="#f9fc4b"/><stop offset="0.6522" stop-color="#f9fc50"/><stop offset="0.6914" stop-color="#f7f92f"/><stop offset="0.7188" stop-color="#f9fd59"/><stop offset="0.7502" stop-color="#fcfe96"/><stop offset="0.7737" stop-color="#f8fb39"/><stop offset="0.8090" stop-color="#fba91d"/><stop offset="0.8404" stop-color="#fc8c1a"/><stop offset="0.8600" stop-color="#fc8019"/><stop offset="0.8796" stop-color="#fc8f1a"/><stop offset="0.8952" stop-color="#fba11c"/><stop offset="0.9227" stop-color="#f9c020"/><stop offset="0.9737" stop-color="#f9d222"/></linearGradient>
<linearGradient id="g103" x1="0" y1="0" x2="0" y2="1"><stop offset="0.0249" stop-color="#460402"/><stop offset="0.0837" stop-color="#a70e09"/><stop offset="0.1347" stop-color="#ce140c"/><stop offset="0.1935" stop-color="#a70e09"/><stop offset="0.2405" stop-color="#8f0b06"/><stop offset="0.2993" stop-color="#680704"/><stop offset="0.3581" stop-color="#680704"/><stop offset="0.3895" stop-color="#dd1a0e"/><stop offset="0.4170" stop-color="#fb4f15"/><stop offset="0.4444" stop-color="#fb4915"/><stop offset="0.4758" stop-color="#fa4114"/><stop offset="0.5150" stop-color="#f6f728"/><stop offset="0.5463" stop-color="#f7fa35"/><stop offset="0.5659" stop-color="#f8fc3d"/><stop offset="0.5855" stop-color="#f9fc4a"/><stop offset="0.6051" stop-color="#f9fc4b"/><stop offset="0.6522" stop-color="#f9fc50"/><stop offset="0.6914" stop-color="#f7f92f"/><stop offset="0.7188" stop-color="#f9fd59"/><stop offset="0.7502" stop-color="#fcfe96"/><stop offset="0.7737" stop-color="#f8fb39"/><stop offset="0.8090" stop-color="#fba91d"/><stop offset="0.8404" stop-color="#fc8c1a"/><stop offset="0.8600" stop-color="#fc8019"/><stop offset="0.8796" stop-color="#fc8f1a"/><stop offset="0.8952" stop-color="#fba11c"/><stop offset="0.9227" stop-color="#f9c020"/><stop offset="0.9737" stop-color="#f9d222"/></linearGradient>
<clipPath id="hc"><rect x="54.2" y="12.3" width="205.8" height="252.0"/></clipPath>
<filter id="bl" x="-5%" y="-5%" width="110%" height="110%"><feGaussianBlur stdDeviation="0.8 1.0"/></filter>
</defs>
<g clip-path="url(#hc)"><g filter="url(#bl)"><rect x="50.03" y="6.3" width="2.16" height="264.0" fill="url(#g0)"/>
<rect x="52.09" y="6.3" width="2.16" height="264.0" fill="url(#g1)"/>
<rect x="54.15" y="6.3" width="2.16" height="264.0" fill="url(#g2)"/>
<rect x="56.21" y="6.3" width="2.16" height="264.0" fill="url(#g3)"/>
<rect x="58.27" y="6.3" width="2.16" height="264.0" fill="url(#g4)"/>
<rect x="60.32" y="6.3" width="2.16" height="264.0" fill="url(#g5)"/>
<rect x="62.38" y="6.3" width="2.16" height="264.0" fill="url(#g6)"/>
<rect x="64.44" y="6.3" width="2.16" height="264.0" fill="url(#g7)"/>
<rect x="66.50" y="6.3" width="2.16" height="264.0" fill="url(#g8)"/>
<rect x="68.56" y="6.3" width="2.16" height="264.0" fill="url(#g9)"/>
<rect x="70.61" y="6.3" width="2.16" height="264.0" fill="url(#g10)"/>
<rect x="72.67" y="6.3" width="2.16" height="264.0" fill="url(#g11)"/>
<rect x="74.73" y="6.3" width="2.16" height="264.0" fill="url(#g12)"/>
<rect x="76.79" y="6.3" width="2.16" height="264.0" fill="url(#g13)"/>
<rect x="78.85" y="6.3" width="2.16" height="264.0" fill="url(#g14)"/>
<rect x="80.90" y="6.3" width="2.16" height="264.0" fill="url(#g15)"/>
<rect x="82.96" y="6.3" width="2.16" height="264.0" fill="url(#g16)"/>
<rect x="85.02" y="6.3" width="2.16" height="264.0" fill="url(#g17)"/>
<rect x="87.08" y="6.3" width="2.16" height="264.0" fill="url(#g18)"/>
<rect x="89.14" y="6.3" width="2.16" height="264.0" fill="url(#g19)"/>
<rect x="91.19" y="6.3" width="2.16" height="264.0" fill="url(#g20)"/>
<rect x="93.25" y="6.3" width="2.16" height="264.0" fill="url(#g21)"/>
<rect x="95.31" y="6.3" width="2.16" height="264.0" fill="url(#g22)"/>
<rect x="97.37" y="6.3" width="2.16" height="264.0" fill="url(#g23)"/>
<rect x="99.43" y="6.3" width="2.16" height="264.0" fill="url(#g24)"/>
<rect x="101.48" y="6.3" width="2.16" height="264.0" fill="url(#g25)"/>
<rect x="103.54" y="6.3" width="2.16" height="264.0" fill="url(#g26)"/>
<rect x="105.60" y="6.3" width="2.16" height="264.0" fill="url(#g27)"/>
<rect x="107.66" y="6.3" width="2.16" height="264.0" fill="url(#g28)"/>
<rect x="109.72" y="6.3" width="2.16" height="264.0" fill="url(#g29)"/>
<rect x="111.77" y="6.3" width="2.16" height="264.0" fill="url(#g30)"/>
<rect x="113.83" y="6.3" width="2.16" height="264.0" fill="url(#g31)"/>
<rect x="115.89" y="6.3" width="2.16" height="264.0" fill="url(#g32)"/>
<rect x="117.95" y="6.3" width="2.16" height="264.0" fill="url(#g33)"/>
<rect x="120.01" y="6.3" width="2.16" height="264.0" fill="url(#g34)"/>
<rect x="122.06" y="6.3" width="2.16" height="264.0" fill="url(#g35)"/>
<rect x="124.12" y="6.3" width="2.16" height="264.0" fill="url(#g36)"/>
<rect x="126.18" y="6.3" width="2.16" height="264.0" fill="url(#g37)"/>
<rect x="128.24" y="6.3" width="2.16" height="264.0" fill="url(#g38)"/>
<rect x="130.30" y="6.3" width="2.16" height="264.0" fill="url(#g39)"/>
<rect x="132.35" y="6.3" width="2.16" height="264.0" fill="url(#g40)"/>
<rect x="134.41" y="6.3" width="2.16" height="264.0" fill="url(#g41)"/>
<rect x="136.47" y="6.3" width="2.16" height="264.0" fill="url(#g42)"/>
<rect x="138.53" y="6.3" width="2.16" height="264.0" fill="url(#g43)"/>
<rect x="140.59" y="6.3" width="2.16" height="264.0" fill="url(#g44)"/>
<rect x="142.64" y="6.3" width="2.16" height="264.0" fill="url(#g45)"/>
<rect x="144.70" y="6.3" width="2.16" height="264.0" fill="url(#g46)"/>
<rect x="146.76" y="6.3" width="2.16" height="264.0" fill="url(#g47)"/>
<rect x="148.82" y="6.3" width="2.16" height="264.0" fill="url(#g48)"/>
<rect x="150.88" y="6.3" width="2.16" height="264.0" fill="url(#g49)"/>
<rect x="152.93" y="6.3" width="2.16" height="264.0" fill="url(#g50)"/>
<rect x="154.99" y="6.3" width="2.16" height="264.0" fill="url(#g51)"/>
<rect x="157.05" y="6.3" width="2.16" height="264.0" fill="url(#g52)"/>
<rect x="159.11" y="6.3" width="2.16" height="264.0" fill="url(#g53)"/>
<rect x="161.17" y="6.3" width="2.16" height="264.0" fill="url(#g54)"/>
<rect x="163.22" y="6.3" width="2.16" height="264.0" fill="url(#g55)"/>
<rect x="165.28" y="6.3" width="2.16" height="264.0" fill="url(#g56)"/>
<rect x="167.34" y="6.3" width="2.16" height="264.0" fill="url(#g57)"/>
<rect x="169.40" y="6.3" width="2.16" height="264.0" fill="url(#g58)"/>
<rect x="171.46" y="6.3" width="2.16" height="264.0" fill="url(#g59)"/>
<rect x="173.51" y="6.3" width="2.16" height="264.0" fill="url(#g60)"/>
<rect x="175.57" y="6.3" width="2.16" height="264.0" fill="url(#g61)"/>
<rect x="177.63" y="6.3" width="2.16" height="264.0" fill="url(#g62)"/>
<rect x="179.69" y="6.3" width="2.16" height="264.0" fill="url(#g63)"/>
<rect x="181.75" y="6.3" width="2.16" height="264.0" fill="url(#g64)"/>
<rect x="183.80" y="6.3" width="2.16" height="264.0" fill="url(#g65)"/>
<rect x="185.86" y="6.3" width="2.16" height="264.0" fill="url(#g66)"/>
<rect x="187.92" y="6.3" width="2.16" height="264.0" fill="url(#g67)"/>
<rect x="189.98" y="6.3" width="2.16" height="264.0" fill="url(#g68)"/>
<rect x="192.04" y="6.3" width="2.16" height="264.0" fill="url(#g69)"/>
<rect x="194.09" y="6.3" width="2.16" height="264.0" fill="url(#g70)"/>
<rect x="196.15" y="6.3" width="2.16" height="264.0" fill="url(#g71)"/>
<rect x="198.21" y="6.3" width="2.16" height="264.0" fill="url(#g72)"/>
<rect x="200.27" y="6.3" width="2.16" height="264.0" fill="url(#g73)"/>
<rect x="202.33" y="6.3" width="2.16" height="264.0" fill="url(#g74)"/>
<rect x="204.38" y="6.3" width="2.16" height="264.0" fill="url(#g75)"/>
<rect x="206.44" y="6.3" width="2.16" height="264.0" fill="url(#g76)"/>
<rect x="208.50" y="6.3" width="2.16" height="264.0" fill="url(#g77)"/>
<rect x="210.56" y="6.3" width="2.16" height="264.0" fill="url(#g78)"/>
<rect x="212.62" y="6.3" width="2.16" height="264.0" fill="url(#g79)"/>
<rect x="214.67" y="6.3" width="2.16" height="264.0" fill="url(#g80)"/>
<rect x="216.73" y="6.3" width="2.16" height="264.0" fill="url(#g81)"/>
<rect x="218.79" y="6.3" width="2.16" height="264.0" fill="url(#g82)"/>
<rect x="220.85" y="6.3" width="2.16" height="264.0" fill="url(#g83)"/>
<rect x="222.91" y="6.3" width="2.16" height="264.0" fill="url(#g84)"/>
<rect x="224.96" y="6.3" width="2.16" height="264.0" fill="url(#g85)"/>
<rect x="227.02" y="6.3" width="2.16" height="264.0" fill="url(#g86)"/>
<rect x="229.08" y="6.3" width="2.16" height="264.0" fill="url(#g87)"/>
<rect x="231.14" y="6.3" width="2.16" height="264.0" fill="url(#g88)"/>
<rect x="233.20" y="6.3" width="2.16" height="264.0" fill="url(#g89)"/>
<rect x="235.25" y="6.3" width="2.16" height="264.0" fill="url(#g90)"/>
<rect x="237.31" y="6.3" width="2.16" height="264.0" fill="url(#g91)"/>
<rect x="239.37" y="6.3" width="2.16" height="264.0" fill="url(#g92)"/>
<rect x="241.43" y="6.3" width="2.16" height="264.0" fill="url(#g93)"/>
<rect x="243.49" y="6.3" width="2.16" height="264.0" fill="url(#g94)"/>
<rect x="245.54" y="6.3" width="2.16" height="264.0" fill="url(#g95)"/>
<rect x="247.60" y="6.3" width="2.16" height="264.0" fill="url(#g96)"/>
<rect x="249.66" y="6.3" width="2.16" height="264.0" fill="url(#g97)"/>
<rect x="251.72" y="6.3" width="2.16" height="264.0" fill="url(#g98)"/>
<rect x="253.78" y="6.3" width="2.16" height="264.0" fill="url(#g99)"/>
<rect x="255.83" y="6.3" width="2.16" height="264.0" fill="url(#g100)"/>
<rect x="257.89" y="6.3" width="2.16" height="264.0" fill="url(#g101)"/>
<rect x="259.95" y="6.3" width="2.16" height="264.0" fill="url(#g102)"/>
<rect x="262.01" y="6.3" width="2.16" height="264.0" fill="url(#g103)"/></g></g>
</svg>
<div style="position:absolute;left:280px;top:12px;width:20px;height:252.3px;box-sizing:border-box;border:1px solid #262626;background:linear-gradient(to bottom,#fffffa 0.00%,#fcfe96 10.14%,#f8fc3c 20.28%,#f6f624 25.35%,#f8de24 30.42%,#fab61e 35.49%,#fc8c1a 40.56%,#fc7618 44.61%,#fc5816 50.69%,#fa3e14 55.76%,#f42210 63.37%,#cd140c 70.97%,#8a0a06 81.11%,#460402 91.25%,#100100 100%)"></div>
<div class="t" style="left:305.3px;top:5.1px">1</div><div style="position:absolute;left:296.5px;top:12.1px;width:3px;height:1px;background:#262626"></div><div class="t" style="left:305.3px;top:56.1px">0.8</div><div style="position:absolute;left:296.5px;top:63.1px;width:3px;height:1px;background:#262626"></div><div class="t" style="left:305.3px;top:107.0px">0.6</div><div style="position:absolute;left:296.5px;top:114.0px;width:3px;height:1px;background:#262626"></div><div class="t" style="left:305.3px;top:158.0px">0.4</div><div style="position:absolute;left:296.5px;top:165.0px;width:3px;height:1px;background:#262626"></div><div class="t" style="left:305.3px;top:209.0px">0.2</div><div style="position:absolute;left:296.5px;top:216.0px;width:3px;height:1px;background:#262626"></div>
<div class="t r" style="left:8px;width:40px;top:20.5px">150</div><div class="t r" style="left:8px;width:40px;top:72.2px">145</div><div class="t r" style="left:8px;width:40px;top:124.0px">140</div><div class="t r" style="left:8px;width:40px;top:175.8px">135</div><div class="t r" style="left:8px;width:40px;top:227.5px">130</div><div class="t c" style="left:34.7px;width:40px;top:272.8px">0</div><div class="t c" style="left:75.9px;width:40px;top:272.8px">10</div><div class="t c" style="left:117.0px;width:40px;top:272.8px">20</div><div class="t c" style="left:158.2px;width:40px;top:272.8px">30</div><div class="t c" style="left:199.3px;width:40px;top:272.8px">40</div><div class="t c" style="left:240.5px;width:40px;top:272.8px">50</div>
<div class="t r" style="left:348px;width:40.8px;top:256.3px">0</div><div class="t r" style="left:348px;width:40.8px;top:205.9px">0.2</div><div class="t r" style="left:348px;width:40.8px;top:155.5px">0.4</div><div class="t r" style="left:348px;width:40.8px;top:105.1px">0.6</div><div class="t r" style="left:348px;width:40.8px;top:54.7px">0.8</div><div class="t r" style="left:348px;width:40.8px;top:4.3px">1</div><div class="t c" style="left:375.3px;width:40px;top:273px">0</div><div class="t c" style="left:455.1px;width:40px;top:273px">5</div><div class="t c" style="left:534.9px;width:40px;top:273px">10</div><div class="t c" style="left:614.7px;width:40px;top:273px">15</div><div class="t c" style="left:694.5px;width:40px;top:273px">20</div>
<div class="l" style="left:57.5px;width:200px;top:293.7px">Angle (degrees)</div>
<div class="l" style="left:456px;width:200px;top:293.8px"><span style="display:inline-block;transform:scaleX(1.18);transform-origin:right center">&#916;</span> f<span style="letter-spacing:0.3px"> </span>(GHz)</div>
<div class="l" style="left:-91.3px;width:200px;top:128.5px;transform:rotate(-90deg)">Frequency (GHz)</div>
<div class="l" style="left:253.6px;width:200px;top:128.3px;transform:rotate(-90deg)"><span style="letter-spacing:0.7px">||</span>Correlation<span style="letter-spacing:0.7px">||</span></div>
<div class="p" style="left:6.5px;top:268.8px;transform:scaleX(0.88);transform-origin:left">a</div>
<div class="p" style="left:347.5px;top:271.5px">b</div>
<div class="b" style="left:657.5px;top:90px;color:#ff2020">30<sup>&#176;</sup></div>
<div class="b" style="left:654.3px;top:135.7px;color:#aa3ccc">Avg</div>
<div class="b" style="left:661.5px;top:180.8px;color:#78b030">50<sup>&#176;</sup></div>
<div class="b" style="left:659.7px;top:236.5px;color:#1f1fe6">20<sup>&#176;</sup></div>
<svg style="position:absolute;left:0;top:0" width="725" height="314" viewBox="0 0 725 314"><path d="M395.3 12.3V264.3H714.5" stroke="#262626" stroke-width="1" fill="none"/><path d="M395.3 264.3v-3.2" stroke="#262626" stroke-width="1"/><path d="M475.1 264.3v-3.2" stroke="#262626" stroke-width="1"/><path d="M554.9 264.3v-3.2" stroke="#262626" stroke-width="1"/><path d="M634.7 264.3v-3.2" stroke="#262626" stroke-width="1"/><path d="M714.5 264.3v-3.2" stroke="#262626" stroke-width="1"/><path d="M395.3 264.3h3.2" stroke="#262626" stroke-width="1"/><path d="M395.3 213.9h3.2" stroke="#262626" stroke-width="1"/><path d="M395.3 163.5h3.2" stroke="#262626" stroke-width="1"/><path d="M395.3 113.1h3.2" stroke="#262626" stroke-width="1"/><path d="M395.3 62.7h3.2" stroke="#262626" stroke-width="1"/><path d="M395.3 12.3h3.2" stroke="#262626" stroke-width="1"/><path d="M54.5 264.3H260" stroke="#555" stroke-width="1" opacity="0.7"/><polyline points="395.3,12.3 418.1,64.5 440.9,64.5 463.7,95.0 486.5,76.0 509.3,108.0 532.1,111.2 554.9,146.0 577.7,137.2 600.5,155.8 623.3,148.7 646.1,167.3 668.9,164.4 691.7,162.5 714.5,148.0" fill="none" stroke="#aa3ccc" stroke-width="2.7" stroke-dasharray="9 5"/><circle cx="395.3" cy="12.3" r="7.6" stroke="#aa3ccc" stroke-width="2.7" fill="none"/><circle cx="418.1" cy="64.5" r="7.6" stroke="#aa3ccc" stroke-width="2.7" fill="none"/><circle cx="440.9" cy="64.5" r="7.6" stroke="#aa3ccc" stroke-width="2.7" fill="none"/><circle cx="463.7" cy="95.0" r="7.6" stroke="#aa3ccc" stroke-width="2.7" fill="none"/><circle cx="486.5" cy="76.0" r="7.6" stroke="#aa3ccc" stroke-width="2.7" fill="none"/><circle cx="509.3" cy="108.0" r="7.6" stroke="#aa3ccc" stroke-width="2.7" fill="none"/><circle cx="532.1" cy="111.2" r="7.6" stroke="#aa3ccc" stroke-width="2.7" fill="none"/><circle cx="554.9" cy="146.0" r="7.6" stroke="#aa3ccc" stroke-width="2.7" fill="none"/><circle cx="577.7" cy="137.2" r="7.6" stroke="#aa3ccc" stroke-width="2.7" fill="none"/><circle cx="600.5" cy="155.8" r="7.6" stroke="#aa3ccc" stroke-width="2.7" fill="none"/><circle cx="623.3" cy="148.7" r="7.6" stroke="#aa3ccc" stroke-width="2.7" fill="none"/><circle cx="646.1" cy="167.3" r="7.6" stroke="#aa3ccc" stroke-width="2.7" fill="none"/><circle cx="668.9" cy="164.4" r="7.6" stroke="#aa3ccc" stroke-width="2.7" fill="none"/><circle cx="691.7" cy="162.5" r="7.6" stroke="#aa3ccc" stroke-width="2.7" fill="none"/><circle cx="714.5" cy="148.0" r="7.6" stroke="#aa3ccc" stroke-width="2.7" fill="none"/><polyline points="395.3,12.3 418.1,57.3 440.9,55.9 463.7,85.5 486.5,60.0 509.3,102.0 532.1,107.6 554.9,168.0 577.7,153.5 600.5,185.2 623.3,168.5 646.1,204.5 668.9,205.3 691.7,204.0 714.5,181.5" fill="none" stroke="#78b030" stroke-width="2.7" stroke-dasharray="9 4 2.5 4"/><path d="M388.3 12.3L402.3 12.3M395.3 5.3L395.3 19.3" stroke="#78b030" stroke-width="2.8" fill="none"/><path d="M411.1 57.3L425.1 57.3M418.1 50.3L418.1 64.3" stroke="#78b030" stroke-width="2.8" fill="none"/><path d="M433.9 55.9L447.9 55.9M440.9 48.9L440.9 62.9" stroke="#78b030" stroke-width="2.8" fill="none"/><path d="M456.7 85.5L470.7 85.5M463.7 78.5L463.7 92.5" stroke="#78b030" stroke-width="2.8" fill="none"/><path d="M479.5 60.0L493.5 60.0M486.5 53.0L486.5 67.0" stroke="#78b030" stroke-width="2.8" fill="none"/><path d="M502.3 102.0L516.3 102.0M509.3 95.0L509.3 109.0" stroke="#78b030" stroke-width="2.8" fill="none"/><path d="M525.1 107.6L539.1 107.6M532.1 100.6L532.1 114.6" stroke="#78b030" stroke-width="2.8" fill="none"/><path d="M547.9 168.0L561.9 168.0M554.9 161.0L554.9 175.0" stroke="#78b030" stroke-width="2.8" fill="none"/><path d="M570.7 153.5L584.7 153.5M577.7 146.5L577.7 160.5" stroke="#78b030" stroke-width="2.8" fill="none"/><path d="M593.5 185.2L607.5 185.2M600.5 178.2L600.5 192.2" stroke="#78b030" stroke-width="2.8" fill="none"/><path d="M616.3 168.5L630.3 168.5M623.3 161.5L623.3 175.5" stroke="#78b030" stroke-width="2.8" fill="none"/><path d="M639.1 204.5L653.1 204.5M646.1 197.5L646.1 211.5" stroke="#78b030" stroke-width="2.8" fill="none"/><path d="M661.9 205.3L675.9 205.3M668.9 198.3L668.9 212.3" stroke="#78b030" stroke-width="2.8" fill="none"/><path d="M684.7 204.0L698.7 204.0M691.7 197.0L691.7 211.0" stroke="#78b030" stroke-width="2.8" fill="none"/><path d="M707.5 181.5L721.5 181.5M714.5 174.5L714.5 188.5" stroke="#78b030" stroke-width="2.8" fill="none"/><polyline points="395.3,12.3 418.1,49.3 440.9,45.8 463.7,67.3 486.5,41.5 509.3,65.8 532.1,57.2 554.9,89.6 577.7,79.0 600.5,93.9 623.3,96.6 646.1,122.5 668.9,118.0 691.7,137.0 714.5,137.0" fill="none" stroke="#ff2020" stroke-width="2.7" stroke-dasharray="9.5 6.5"/><path d="M389.9 6.9L400.7 17.7M389.9 17.7L400.7 6.9" stroke="#ff2020" stroke-width="2.9" fill="none"/><path d="M412.7 43.9L423.5 54.7M412.7 54.7L423.5 43.9" stroke="#ff2020" stroke-width="2.9" fill="none"/><path d="M435.5 40.4L446.3 51.2M435.5 51.2L446.3 40.4" stroke="#ff2020" stroke-width="2.9" fill="none"/><path d="M458.3 61.9L469.1 72.7M458.3 72.7L469.1 61.9" stroke="#ff2020" stroke-width="2.9" fill="none"/><path d="M481.1 36.1L491.9 46.9M481.1 46.9L491.9 36.1" stroke="#ff2020" stroke-width="2.9" fill="none"/><path d="M503.9 60.4L514.7 71.2M503.9 71.2L514.7 60.4" stroke="#ff2020" stroke-width="2.9" fill="none"/><path d="M526.7 51.8L537.5 62.6M526.7 62.6L537.5 51.8" stroke="#ff2020" stroke-width="2.9" fill="none"/><path d="M549.5 84.2L560.3 95.0M549.5 95.0L560.3 84.2" stroke="#ff2020" stroke-width="2.9" fill="none"/><path d="M572.3 73.6L583.1 84.4M572.3 84.4L583.1 73.6" stroke="#ff2020" stroke-width="2.9" fill="none"/><path d="M595.1 88.5L605.9 99.3M595.1 99.3L605.9 88.5" stroke="#ff2020" stroke-width="2.9" fill="none"/><path d="M617.9 91.2L628.7 102.0M617.9 102.0L628.7 91.2" stroke="#ff2020" stroke-width="2.9" fill="none"/><path d="M640.7 117.1L651.5 127.9M640.7 127.9L651.5 117.1" stroke="#ff2020" stroke-width="2.9" fill="none"/><path d="M663.5 112.6L674.3 123.4M663.5 123.4L674.3 112.6" stroke="#ff2020" stroke-width="2.9" fill="none"/><path d="M686.3 131.6L697.1 142.4M686.3 142.4L697.1 131.6" stroke="#ff2020" stroke-width="2.9" fill="none"/><path d="M709.1 131.6L719.9 142.4M709.1 142.4L719.9 131.6" stroke="#ff2020" stroke-width="2.9" fill="none"/><polyline points="395.3,12.3 418.1,33.0 440.9,33.0 463.7,53.5 486.5,55.8 509.3,81.4 532.1,93.0 554.9,127.3 577.7,143.0 600.5,161.2 623.3,193.8 646.1,213.5 668.9,224.3 691.7,232.0 714.5,217.8" fill="none" stroke="#1f1fe6" stroke-width="2.7" stroke-dasharray="9 4 2.5 4"/><path d="M395.3 2.1L403.0 12.3L395.3 22.5L387.6 12.3Z" stroke="#1f1fe6" stroke-width="2.8" fill="none"/><path d="M418.1 22.8L425.8 33.0L418.1 43.2L410.4 33.0Z" stroke="#1f1fe6" stroke-width="2.8" fill="none"/><path d="M440.9 22.8L448.6 33.0L440.9 43.2L433.2 33.0Z" stroke="#1f1fe6" stroke-width="2.8" fill="none"/><path d="M463.7 43.3L471.4 53.5L463.7 63.7L456.0 53.5Z" stroke="#1f1fe6" stroke-width="2.8" fill="none"/><path d="M486.5 45.6L494.2 55.8L486.5 66.0L478.8 55.8Z" stroke="#1f1fe6" stroke-width="2.8" fill="none"/><path d="M509.3 71.2L517.0 81.4L509.3 91.6L501.6 81.4Z" stroke="#1f1fe6" stroke-width="2.8" fill="none"/><path d="M532.1 82.8L539.8 93.0L532.1 103.2L524.4 93.0Z" stroke="#1f1fe6" stroke-width="2.8" fill="none"/><path d="M554.9 117.1L562.6 127.3L554.9 137.5L547.2 127.3Z" stroke="#1f1fe6" stroke-width="2.8" fill="none"/><path d="M577.7 132.8L585.4 143.0L577.7 153.2L570.0 143.0Z" stroke="#1f1fe6" stroke-width="2.8" fill="none"/><path d="M600.5 151.0L608.2 161.2L600.5 171.4L592.8 161.2Z" stroke="#1f1fe6" stroke-width="2.8" fill="none"/><path d="M623.3 183.6L631.0 193.8L623.3 204.0L615.6 193.8Z" stroke="#1f1fe6" stroke-width="2.8" fill="none"/><path d="M646.1 203.3L653.8 213.5L646.1 223.7L638.4 213.5Z" stroke="#1f1fe6" stroke-width="2.8" fill="none"/><path d="M668.9 214.1L676.6 224.3L668.9 234.5L661.2 224.3Z" stroke="#1f1fe6" stroke-width="2.8" fill="none"/><path d="M691.7 221.8L699.4 232.0L691.7 242.2L684.0 232.0Z" stroke="#1f1fe6" stroke-width="2.8" fill="none"/><path d="M714.5 207.6L722.2 217.8L714.5 228.0L706.8 217.8Z" stroke="#1f1fe6" stroke-width="2.8" fill="none"/></svg>
</div></body></html>
